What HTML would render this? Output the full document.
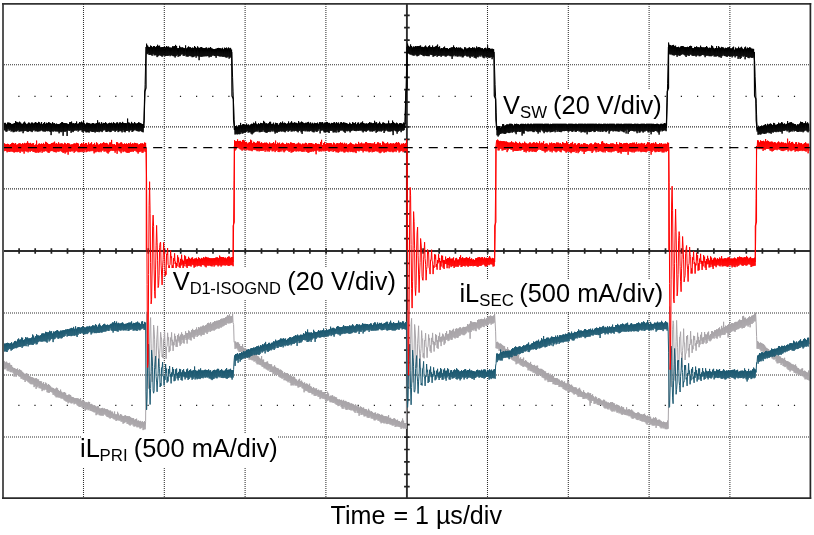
<!DOCTYPE html>
<html><head><meta charset="utf-8"><title>Waveforms</title>
<style>
html,body{margin:0;padding:0;background:#fff;}
body{width:814px;height:535px;overflow:hidden;position:relative;}
svg{position:absolute;left:0;top:0;}
</style></head>
<body>
<svg width="814" height="535" viewBox="0 0 814 535">
<rect width="814" height="535" fill="#fff"/>
<path d="M83.50 4V497M164.30 4V497M245.10 4V497M325.90 4V497M487.50 4V497M568.30 4V497M649.10 4V497M729.90 4V497M4 64.83H809.5M4 126.86H809.5M4 188.89H809.5M4 312.95H809.5M4 374.98H809.5M4 437.01H809.5" stroke="#303030" stroke-width="1.05" stroke-dasharray="1 1" fill="none"/>
<path d="M18.3 96.4h1.2M34.4 96.4h1.2M50.6 96.4h1.2M66.7 96.4h1.2M99.1 96.4h1.2M115.2 96.4h1.2M131.4 96.4h1.2M147.5 96.4h1.2M179.9 96.4h1.2M196.0 96.4h1.2M212.2 96.4h1.2M228.3 96.4h1.2M260.7 96.4h1.2M276.8 96.4h1.2M293.0 96.4h1.2M309.1 96.4h1.2M341.5 96.4h1.2M357.6 96.4h1.2M373.8 96.4h1.2M389.9 96.4h1.2M422.3 96.4h1.2M438.4 96.4h1.2M454.6 96.4h1.2M470.7 96.4h1.2M503.1 96.4h1.2M519.2 96.4h1.2M535.4 96.4h1.2M551.5 96.4h1.2M583.9 96.4h1.2M600.0 96.4h1.2M616.2 96.4h1.2M632.3 96.4h1.2M664.7 96.4h1.2M680.8 96.4h1.2M697.0 96.4h1.2M713.1 96.4h1.2M745.5 96.4h1.2M761.6 96.4h1.2M777.8 96.4h1.2M793.9 96.4h1.2M18.3 405.4h1.2M34.4 405.4h1.2M50.6 405.4h1.2M66.7 405.4h1.2M99.1 405.4h1.2M115.2 405.4h1.2M131.4 405.4h1.2M147.5 405.4h1.2M179.9 405.4h1.2M196.0 405.4h1.2M212.2 405.4h1.2M228.3 405.4h1.2M260.7 405.4h1.2M276.8 405.4h1.2M293.0 405.4h1.2M309.1 405.4h1.2M341.5 405.4h1.2M357.6 405.4h1.2M373.8 405.4h1.2M389.9 405.4h1.2M422.3 405.4h1.2M438.4 405.4h1.2M454.6 405.4h1.2M470.7 405.4h1.2M503.1 405.4h1.2M519.2 405.4h1.2M535.4 405.4h1.2M551.5 405.4h1.2M583.9 405.4h1.2M600.0 405.4h1.2M616.2 405.4h1.2M632.3 405.4h1.2M664.7 405.4h1.2M680.8 405.4h1.2M697.0 405.4h1.2M713.1 405.4h1.2M745.5 405.4h1.2M761.6 405.4h1.2M777.8 405.4h1.2M793.9 405.4h1.2" stroke="#1a1a1a" stroke-width="1.3" fill="none"/>
<path d="M3 251.0H810M406.9 3.5V498" stroke="#2e2e2e" stroke-width="1.9" fill="none"/>
<path d="M19.1 248.2v5.6M35.2 248.2v5.6M51.4 248.2v5.6M67.5 248.2v5.6M83.7 248.2v5.6M99.9 248.2v5.6M116.0 248.2v5.6M132.2 248.2v5.6M148.3 248.2v5.6M164.5 248.2v5.6M180.7 248.2v5.6M196.8 248.2v5.6M213.0 248.2v5.6M229.1 248.2v5.6M245.3 248.2v5.6M261.5 248.2v5.6M277.6 248.2v5.6M293.8 248.2v5.6M309.9 248.2v5.6M326.1 248.2v5.6M342.3 248.2v5.6M358.4 248.2v5.6M374.6 248.2v5.6M390.7 248.2v5.6M423.1 248.2v5.6M439.2 248.2v5.6M455.4 248.2v5.6M471.5 248.2v5.6M487.7 248.2v5.6M503.9 248.2v5.6M520.0 248.2v5.6M536.2 248.2v5.6M552.3 248.2v5.6M568.5 248.2v5.6M584.7 248.2v5.6M600.8 248.2v5.6M617.0 248.2v5.6M633.1 248.2v5.6M649.3 248.2v5.6M665.5 248.2v5.6M681.6 248.2v5.6M697.8 248.2v5.6M713.9 248.2v5.6M730.1 248.2v5.6M746.3 248.2v5.6M762.4 248.2v5.6M778.6 248.2v5.6M794.7 248.2v5.6M404.1 15.3h5.6M404.1 27.7h5.6M404.1 40.1h5.6M404.1 52.5h5.6M404.1 64.9h5.6M404.1 77.3h5.6M404.1 89.7h5.6M404.1 102.1h5.6M404.1 114.5h5.6M404.1 126.9h5.6M404.1 139.3h5.6M404.1 151.8h5.6M404.1 164.2h5.6M404.1 176.6h5.6M404.1 189.0h5.6M404.1 201.4h5.6M404.1 213.8h5.6M404.1 226.2h5.6M404.1 238.6h5.6M404.1 263.4h5.6M404.1 275.8h5.6M404.1 288.2h5.6M404.1 300.6h5.6M404.1 313.0h5.6M404.1 325.4h5.6M404.1 337.8h5.6M404.1 350.2h5.6M404.1 362.7h5.6M404.1 375.1h5.6M404.1 387.5h5.6M404.1 399.9h5.6M404.1 412.3h5.6M404.1 424.7h5.6M404.1 437.1h5.6M404.1 449.5h5.6M404.1 461.9h5.6M404.1 474.3h5.6M404.1 486.7h5.6" stroke="#222" stroke-width="1.7" fill="none"/>
<g fill="none" stroke-linejoin="round" stroke-width="1">
<polyline stroke="#a9a5a9" points="3.6,360.3 4.1,369.1 4.6,361.3 5.1,369.3 5.6,362.4 6.1,368.2 6.6,361.7 7.1,370.5 7.6,362.8 8.1,371.2 8.6,363.2 9.1,370.4 9.6,362.8 10.1,371.9 10.6,364.8 11.1,372.3 11.6,365.1 12.1,371.6 12.6,366.9 13.1,373.1 13.6,367.9 14.1,376.7 14.6,368 15.1,375.6 15.6,368.8 16.1,376.9 16.6,369 17.1,375.1 17.6,368.5 18.1,375.1 18.6,370.1 19.1,376.4 19.6,369.2 20.1,377 20.6,370.1 21.1,378.7 21.6,370.7 22.1,378.6 22.6,371.9 23.1,379.6 23.6,372.8 24.1,379.9 24.6,373.8 25.1,382 25.6,373.8 26.1,380.2 26.6,373.2 27.1,381 27.6,373.8 28.1,382.1 28.6,374.8 29.1,382.7 29.6,376.2 30.1,383.7 30.6,376.7 31.1,384.3 31.6,377.2 32.1,384.1 32.6,377.4 33.1,384.5 33.6,377.9 34.1,387.1 34.6,378.6 35.1,386.1 35.6,378.4 36.1,388.9 36.6,378.3 37.1,387.4 37.6,379.4 38.1,386.4 38.6,379.5 39.1,388.2 39.6,381.2 40.1,388.2 40.6,381.2 41.1,388.7 41.6,381.5 42.1,391.1 42.6,383.4 43.1,389.7 43.6,382 44.1,390.3 44.6,384.2 45.1,389.3 45.6,382.6 46.1,389.9 46.6,383.5 47.1,392.2 47.6,384.9 48.1,392.6 48.6,384 49.1,393 49.6,385 50.1,391.8 50.6,386.3 51.1,392 51.6,387.5 52.1,392.6 52.6,387.8 53.1,394.8 53.6,388.1 54.1,394.7 54.6,388.9 55.1,396.1 55.6,388.6 56.1,397.3 56.6,387.7 57.1,397.2 57.6,388.4 58.1,397.4 58.6,390.1 59.1,397.6 59.6,391 60.1,397.7 60.6,389.6 61.1,398.6 61.6,391.7 62.1,398.4 62.6,392.6 63.1,398.9 63.6,392.4 64.1,400.2 64.6,392 65.1,400.9 65.6,392.9 66.1,401.6 66.6,394.9 67.1,401.6 67.6,395.2 68.1,403.3 68.6,394.6 69.1,402.2 69.6,394.6 70.1,402.7 70.6,395.1 71.1,403.4 71.6,396.7 72.1,403.3 72.6,397 73.1,402.6 73.6,397.4 74.1,404.3 74.6,398.1 75.1,403.5 75.6,398.2 76.1,403.8 76.6,398.2 77.1,405.2 77.6,398.3 78.1,406 78.6,398.6 79.1,406.8 79.6,399.2 80.1,407 80.6,398 81.1,406.3 81.6,400.8 82.1,407.7 82.6,399.9 83.1,408.4 83.6,400.4 84.1,407.9 84.6,401.4 85.1,410.9 85.6,402.3 86.1,409.7 86.6,402.2 87.1,409.1 87.6,402.5 88.1,410.2 88.6,401.8 89.1,409.4 89.6,402.1 90.1,410.6 90.6,404.2 91.1,411 91.6,403.9 92.1,411.3 92.6,404.7 93.1,411.8 93.6,405.4 94.1,412.4 94.6,405.2 95.1,412.3 95.6,405.9 96.1,415.2 96.6,406.7 97.1,414.5 97.6,406.2 98.1,413.6 98.6,406.3 99.1,415.1 99.6,408.3 100.1,415.4 100.6,408.5 101.1,415.6 101.6,408.2 102.1,415.5 102.6,407.9 103.1,415.8 103.6,408.6 104.1,414.3 104.6,408.4 105.1,414.7 105.6,409.1 106.1,415.8 106.6,409.2 107.1,417 107.6,409.3 108.1,417.1 108.6,410.3 109.1,417.7 109.6,410.7 110.1,418.7 110.6,410.6 111.1,418 111.6,411.7 112.1,417.9 112.6,411.7 113.1,418.7 113.6,413.7 114.1,419.4 114.6,411.5 115.1,419.5 115.6,414.3 116.1,421 116.6,414.4 117.1,420.3 117.6,411.8 118.1,420.2 118.6,413.6 119.1,420.7 119.6,415.5 120.1,420.4 120.6,414.1 121.1,421.7 121.6,414.7 122.1,421.6 122.6,415.9 123.1,423.7 123.6,416 124.1,423.1 124.6,415.6 125.1,422.4 125.6,415.3 126.1,422 126.6,416.1 127.1,423.8 127.6,416.1 128.1,423.8 128.6,416.3 129.1,424.8 129.6,416.3 130.1,425.6 130.6,417.2 131.1,424.7 131.6,417.9 132.1,424.1 132.6,418.2 133.1,425.5 133.6,418.2 134.1,426.7 134.6,419.7 135.1,426 135.6,419.2 136.1,426.5 136.6,418.7 137.1,427.4 137.6,420.7 138.1,426.9 138.6,420.5 139.1,427.4 139.6,421.3 140.1,428.7 140.6,420.9 141.1,428.2 141.6,421.8 142.1,427.5 142.6,421.3 143.1,430.1 143.6,422.2 144.1,429.4 144.6,421.1 145.1,429.3 145.6,421.7 146.1,362.1 146.6,311.9 147.1,313.6 147.6,337.8 148.1,380 148.6,388.5 149.1,380 149.6,344.9 150.1,323.9 150.6,317.6 151.1,343.2 151.6,362.9 152.1,381.9 152.6,367.2 153.1,348.7 153.6,325 154.1,329.5 154.6,339.2 155.1,364.9 155.6,369 156.1,366.3 156.6,342.9 157.1,334.8 157.6,325.9 158.1,345.9 158.6,354.1 159.1,366.7 159.6,353.8 160.1,347.7 160.6,332.1 161.1,336.8 161.6,339 162.1,357 162.6,354.5 163.1,358.1 163.6,339.6 164.1,341 164.6,331.5 165.1,345.8 165.6,348.1 166.1,358.7 166.6,346.8 167.1,346.3 167.6,332.8 168.1,340.4 168.6,337.3 169.1,352.2 169.6,346.5 170.1,350.8 170.6,337.6 171.1,341.2 171.6,332.4 172.1,345.4 172.6,339.8 173.1,350.9 173.6,341.9 174.1,345.2 174.6,333.7 175.1,341.6 175.6,336 176.1,346.8 176.6,339.7 177.1,347 177.6,335 178.1,340.9 178.6,333.7 179.1,342.5 179.6,336.6 180.1,345.8 180.6,334.7 181.1,344.2 181.6,332.4 182.1,340 182.6,334.1 183.1,342.9 183.6,335.5 184.1,343.6 184.6,335 185.1,338.1 185.6,331.3 186.1,340 186.6,333 187.1,343.6 187.6,333 188.1,339.4 188.6,330.5 189.1,338.3 189.6,331.4 190.1,340 190.6,332.5 191.1,340.5 191.6,330 192.1,337 192.6,328.9 193.1,337.6 193.6,330.1 194.1,339 194.6,330 195.1,336.6 195.6,329.5 196.1,335.1 196.6,327.5 197.1,337 197.6,329.6 198.1,335.8 198.6,327 199.1,335.1 199.6,327.7 200.1,334.8 200.6,326.7 201.1,336.2 201.6,326.7 202.1,334.7 202.6,325.8 203.1,334.8 203.6,325.5 204.1,334.7 204.6,326.1 205.1,332.4 205.6,325.2 206.1,332.7 206.6,324.6 207.1,334 207.6,323.1 208.1,332.2 208.6,322.8 209.1,330.7 209.6,323.5 210.1,332 210.6,322.1 211.1,331.1 211.6,323.8 212.1,330.5 212.6,322.7 213.1,330.2 213.6,322.2 214.1,330.7 214.6,321 215.1,329.7 215.6,321.4 216.1,329.1 216.6,320.8 217.1,328.3 217.6,320.7 218.1,328.5 218.6,320.4 219.1,328.6 219.6,320 220.1,327.3 220.6,319.2 221.1,327.7 221.6,318.7 222.1,326.6 222.6,318.7 223.1,326.3 223.6,318.3 224.1,325.7 224.6,318.1 225.1,324.8 225.6,317.2 226.1,325 226.6,316.7 227.1,323.1 227.6,315.2 228.1,323.5 228.6,315.7 229.1,323.3 229.6,314.3 230.1,323.3 230.6,316.3 231.1,323 231.6,316.1 232.1,322.4 232.6,313.5 233.1,322.7 233.6,324.4 234.1,342.1 234.6,341.6 235.1,348.9 235.6,341.6 236.1,348.1 236.6,342.6 237.1,348.7 237.6,342.2 238.1,350.4 238.6,342.6 239.1,351.9 239.6,344.2 240.1,352 240.6,346 241.1,351.3 241.6,346.2 242.1,352.8 242.6,344.1 243.1,354.3 243.6,347.7 244.1,354.4 244.6,348.6 245.1,355 245.6,348 246.1,356.5 246.6,349 247.1,356.2 247.6,350.6 248.1,358 248.6,351.2 249.1,359.8 249.6,351.7 250.1,359.5 250.6,351.6 251.1,359.8 251.6,352.4 252.1,360.3 252.6,353.6 253.1,360.3 253.6,354.3 254.1,361.7 254.6,353.4 255.1,361 255.6,354.4 256.1,362.7 256.6,352.7 257.1,364.3 257.6,356.1 258.1,364.2 258.6,356.5 259.1,364.5 259.6,357.8 260.1,365 260.6,358.8 261.1,365.4 261.6,356 262.1,366.7 262.6,359.7 263.1,366.9 263.6,359.6 264.1,368.4 264.6,362.3 265.1,368.2 265.6,362.3 266.1,369.2 266.6,361.8 267.1,369.7 267.6,361.5 268.1,370.6 268.6,363.6 269.1,369.5 269.6,364 270.1,372 270.6,364.3 271.1,371.9 271.6,364.4 272.1,372.2 272.6,366.6 273.1,374.1 273.6,366.6 274.1,373.6 274.6,365.3 275.1,374.6 275.6,366.9 276.1,375.2 276.6,367.9 277.1,374.7 277.6,368.2 278.1,375 278.6,368.6 279.1,377 279.6,369.8 280.1,377.5 280.6,369.6 281.1,377.9 281.6,370.3 282.1,378.8 282.6,371.2 283.1,377.9 283.6,373.3 284.1,380.3 284.6,372.1 285.1,380 285.6,373.1 286.1,380.7 286.6,373 287.1,381.2 287.6,373 288.1,382.3 288.6,374.9 289.1,381.2 289.6,375.3 290.1,382.9 290.6,376 291.1,385.5 291.6,375.9 292.1,385.1 292.6,376.9 293.1,385.5 293.6,376.6 294.1,384.4 294.6,376.9 295.1,385.6 295.6,378.8 296.1,385.4 296.6,379.5 297.1,385.8 297.6,380.8 298.1,387.6 298.6,379.7 299.1,387.2 299.6,378.8 300.1,387 300.6,381.2 301.1,386.4 301.6,380.6 302.1,388.2 302.6,381.9 303.1,388.7 303.6,383.2 304.1,392.3 304.6,382.4 305.1,390.5 305.6,383.9 306.1,391.1 306.6,383.5 307.1,390.9 307.6,383.9 308.1,392.1 308.6,384.9 309.1,392.9 309.6,383.7 310.1,392.6 310.6,386.2 311.1,393 311.6,386.8 312.1,394.4 312.6,388.2 313.1,393.9 313.6,387.1 314.1,395.6 314.6,388.4 315.1,396 315.6,388.6 316.1,395.7 316.6,388.4 317.1,395.3 317.6,390 318.1,396.8 318.6,389.7 319.1,396.7 319.6,390.6 320.1,399.1 320.6,390.4 321.1,397.7 321.6,390.4 322.1,398.5 322.6,392.1 323.1,398.7 323.6,392.1 324.1,398.8 324.6,392 325.1,399.5 325.6,393.7 326.1,401.7 326.6,394.6 327.1,401.1 327.6,391.7 328.1,400.1 328.6,393.5 329.1,400.6 329.6,396.4 330.1,402.2 330.6,395.7 331.1,402.2 331.6,395.7 332.1,402.3 332.6,395.2 333.1,403 333.6,396.6 334.1,402.6 334.6,396.6 335.1,403.7 335.6,397.1 336.1,404.5 336.6,397.5 337.1,405 337.6,399.1 338.1,406.1 338.6,399.5 339.1,405.9 339.6,399.4 340.1,405 340.6,400.1 341.1,406.8 341.6,399.8 342.1,408.5 342.6,400.8 343.1,408.9 343.6,399.9 344.1,407.1 344.6,401.2 345.1,408.7 345.6,400.9 346.1,409.9 346.6,401.6 347.1,409.9 347.6,402.2 348.1,408.8 348.6,402 349.1,409.9 349.6,402.8 350.1,409.9 350.6,403.6 351.1,410.5 351.6,403.4 352.1,409.9 352.6,403.9 353.1,410.7 353.6,404.3 354.1,411.6 354.6,405.3 355.1,412.9 355.6,404.4 356.1,410.7 356.6,405.8 357.1,412.8 357.6,406.4 358.1,413.1 358.6,406.1 359.1,415.8 359.6,407.5 360.1,413.2 360.6,406.4 361.1,415 361.6,407 362.1,414.4 362.6,407.9 363.1,414.8 363.6,407.5 364.1,416.4 364.6,408.9 365.1,416.3 365.6,409.1 366.1,415.9 366.6,409.3 367.1,417.4 367.6,410.6 368.1,417.9 368.6,408.8 369.1,417.9 369.6,410.5 370.1,416.6 370.6,411.5 371.1,418.4 371.6,411.2 372.1,418.6 372.6,412 373.1,418.7 373.6,413 374.1,420.3 374.6,412.8 375.1,420.4 375.6,412.5 376.1,419.5 376.6,414.2 377.1,419.5 377.6,413.5 378.1,420.8 378.6,413.8 379.1,420.6 379.6,414.1 380.1,421.8 380.6,415 381.1,423.3 381.6,414.6 382.1,422.5 382.6,414.9 383.1,422.9 383.6,415.9 384.1,423.5 384.6,416.2 385.1,422.7 385.6,416.2 386.1,423.7 386.6,416.4 387.1,424.1 387.6,416.7 388.1,423.7 388.6,415.1 389.1,423.8 389.6,417.9 390.1,424.6 390.6,417.8 391.1,424.5 391.6,418.9 392.1,425.4 392.6,419 393.1,425.7 393.6,418.5 394.1,424.9 394.6,418.3 395.1,426.9 395.6,419.4 396.1,426.6 396.6,420.2 397.1,426.4 397.6,419.7 398.1,426.6 398.6,421 399.1,426.9 399.6,421.2 400.1,427.2 400.6,422.2 401.1,428.9 401.6,420.8 402.1,427.6 402.6,418.5 403.1,428.5 403.6,420.7 404.1,428.4 404.6,423 405.1,428.4 405.6,423.4 406.1,429 406.6,423.3 407.1,364 407.6,310.2 408.1,312.1 408.6,337.8 409.1,377.2 409.6,388.7 410.1,380.3 410.6,343.6 411.1,324.4 411.6,318.4 412.1,344 412.6,364.3 413.1,382.4 413.6,366.7 414.1,349.9 414.6,324.5 415.1,329.8 415.6,339 416.1,366.5 416.6,367.5 417.1,366.6 417.6,343.3 418.1,335.9 418.6,325.8 419.1,344.8 419.6,353 420.1,367.9 420.6,353.6 421.1,348.7 421.6,330.6 422.1,337.7 422.6,338.4 423.1,357.3 423.6,353.2 424.1,358.3 424.6,340.3 425.1,341 425.6,333.2 426.1,347.1 426.6,347.2 427.1,357.7 427.6,347.9 428.1,346.4 428.6,334.5 429.1,340.1 429.6,338.4 430.1,351.2 430.6,345.5 431.1,352.8 431.6,337.9 432.1,342 432.6,332.9 433.1,344.4 433.6,341.1 434.1,351.5 434.6,342 435.1,345.2 435.6,334.2 436.1,341.8 436.6,335.2 437.1,347.9 437.6,340.3 438.1,348.8 438.6,336.2 439.1,341.2 439.6,332.7 440.1,342.2 440.6,337 441.1,346.1 441.6,336.6 442.1,341.6 442.6,333.7 443.1,340.2 443.6,334.6 444.1,344.8 444.6,336.7 445.1,343.3 445.6,333 446.1,339.9 446.6,331.2 447.1,339.6 447.6,334.3 448.1,341.1 448.6,333.8 449.1,340.5 449.6,330.1 450.1,338.6 450.6,330.6 451.1,339.9 451.6,330.9 452.1,339.7 452.6,329.8 453.1,337.1 453.6,328.8 454.1,337.9 454.6,331.5 455.1,338.5 455.6,328.9 456.1,337.2 456.6,328.3 457.1,338 457.6,328.8 458.1,337.6 458.6,328.5 459.1,336.1 459.6,327.5 460.1,335.7 460.6,327.3 461.1,334.4 461.6,328.5 462.1,334.4 462.6,327.5 463.1,335.1 463.6,326.9 464.1,335.2 464.6,327 465.1,334.3 465.6,326.9 466.1,333.3 466.6,326.6 467.1,331.2 467.6,324 468.1,332.3 468.6,324.7 469.1,332.2 469.6,323.8 470.1,338.7 470.6,321 471.1,331.9 471.6,321.6 472.1,330 472.6,322.4 473.1,330.6 473.6,322.2 474.1,329.2 474.6,322 475.1,330.6 475.6,322.3 476.1,331.2 476.6,322.6 477.1,327.8 477.6,320 478.1,328.7 478.6,319.5 479.1,329.7 479.6,319.6 480.1,328.2 480.6,319.1 481.1,327.6 481.6,318.9 482.1,326.3 482.6,319.3 483.1,326.8 483.6,319.2 484.1,327.1 484.6,317.7 485.1,324.6 485.6,319.5 486.1,326 486.6,318.2 487.1,325.7 487.6,316.7 488.1,325 488.6,316.5 489.1,323.6 489.6,316 490.1,323.2 490.6,315.4 491.1,324.7 491.6,316.1 492.1,323.7 492.6,316.3 493.1,323.5 493.6,315.5 494.1,322.7 494.6,313.8 495.1,322 495.6,331.2 496.1,348.2 496.6,342 497.1,348.6 497.6,341.8 498.1,348.7 498.6,342.8 499.1,350.8 499.6,343.7 500.1,350.4 500.6,343.5 501.1,351.3 501.6,344.3 502.1,353.5 502.6,345.2 503.1,352.5 503.6,345.9 504.1,354 504.6,346.3 505.1,354.4 505.6,348.8 506.1,354.5 506.6,349 507.1,356.7 507.6,347.2 508.1,356.9 508.6,349.4 509.1,357.3 509.6,350.6 510.1,357 510.6,351.7 511.1,358.9 511.6,350.7 512.1,359.9 512.6,350.7 513.1,360.5 513.6,353.4 514.1,360.8 514.6,353.3 515.1,361.6 515.6,352.2 516.1,364.3 516.6,354.7 517.1,363.5 517.6,354.3 518.1,363.4 518.6,354.8 519.1,363.3 519.6,358.6 520.1,364.8 520.6,357.4 521.1,365.5 521.6,359 522.1,365.9 522.6,358.9 523.1,367 523.6,357.6 524.1,366.3 524.6,361 525.1,366.4 525.6,360.1 526.1,366.9 526.6,360.9 527.1,367.8 527.6,362.1 528.1,370.4 528.6,362.7 529.1,369.5 529.6,363.3 530.1,370.9 530.6,361.9 531.1,371.3 531.6,364.1 532.1,371.3 532.6,365 533.1,372.6 533.6,365.3 534.1,372.6 534.6,364.9 535.1,373.4 535.6,366.1 536.1,374.3 536.6,365.8 537.1,376 537.6,365.6 538.1,375.2 538.6,368 539.1,375.3 539.6,368.9 540.1,374.6 540.6,368.8 541.1,375.6 541.6,368.9 542.1,377.3 542.6,369.6 543.1,377.8 543.6,370.2 544.1,378.3 544.6,371.2 545.1,380.4 545.6,371.5 546.1,379.2 546.6,373.2 547.1,380.3 547.6,373.2 548.1,382.1 548.6,372.9 549.1,381.6 549.6,374.5 550.1,382 550.6,373.8 551.1,382 551.6,375.2 552.1,382 552.6,375.6 553.1,384.2 553.6,376 554.1,383.9 554.6,378.1 555.1,384.9 555.6,378.1 556.1,384.7 556.6,378.2 557.1,385 557.6,378.4 558.1,384.9 558.6,379.4 559.1,387 559.6,379.8 560.1,386.3 560.6,381.2 561.1,387.1 561.6,380.4 562.1,387.2 562.6,380.8 563.1,388.9 563.6,382 564.1,389.4 564.6,381.4 565.1,390 565.6,383.3 566.1,390.7 566.6,383.5 567.1,389.9 567.6,379.7 568.1,392.2 568.6,381.1 569.1,392.4 569.6,384 570.1,391.7 570.6,385 571.1,392 571.6,384.7 572.1,392.5 572.6,385.9 573.1,393.4 573.6,387.2 574.1,394.6 574.6,387.3 575.1,394 575.6,387.3 576.1,394.1 576.6,387.7 577.1,395.2 577.6,389.3 578.1,396.9 578.6,388.6 579.1,396.5 579.6,387.8 580.1,396.7 580.6,389.7 581.1,397 581.6,391.3 582.1,397.1 582.6,392.1 583.1,399 583.6,390.3 584.1,398.9 584.6,392 585.1,398.4 585.6,393.1 586.1,398.7 586.6,393.5 587.1,398.4 587.6,392.6 588.1,399.9 588.6,392.6 589.1,400.6 589.6,393.4 590.1,405.8 590.6,393.2 591.1,403 591.6,395 592.1,400.9 592.6,394.3 593.1,400.9 593.6,396.3 594.1,403.8 594.6,397.5 595.1,403.7 595.6,396.5 596.1,403.2 596.6,397.3 597.1,404.4 597.6,398.9 598.1,405 598.6,398.1 599.1,405.2 599.6,398.5 600.1,405.1 600.6,399.4 601.1,404.9 601.6,400.5 602.1,404.9 602.6,400.7 603.1,406.2 603.6,399.7 604.1,407.7 604.6,399.9 605.1,408.6 605.6,401.5 606.1,407.9 606.6,401.7 607.1,408.9 607.6,402.5 608.1,409.5 608.6,402.5 609.1,408.2 609.6,403 610.1,409.6 610.6,402.2 611.1,410.7 611.6,402.3 612.1,411.7 612.6,402 613.1,410.8 613.6,403.2 614.1,411.6 614.6,403.5 615.1,410.3 615.6,405.1 616.1,411.5 616.6,404.8 617.1,412.8 617.6,406.1 618.1,412.2 618.6,405.3 619.1,413.4 619.6,405.9 620.1,412.8 620.6,407.4 621.1,414.1 621.6,406 622.1,415 622.6,407.3 623.1,414.1 623.6,407.3 624.1,414.5 624.6,409.4 625.1,415 625.6,409.7 626.1,415.1 626.6,407.3 627.1,415.3 627.6,409.7 628.1,415.5 628.6,409.3 629.1,416.3 629.6,409.3 630.1,415.9 630.6,410.2 631.1,417.4 631.6,409.6 632.1,418.6 632.6,410.6 633.1,418.7 633.6,411.7 634.1,418.2 634.6,412.5 635.1,418 635.6,413 636.1,419.2 636.6,413.1 637.1,420 637.6,412.5 638.1,420.1 638.6,412.4 639.1,419.4 639.6,413.3 640.1,420.7 640.6,414.2 641.1,421 641.6,414.2 642.1,421.6 642.6,414.6 643.1,421.4 643.6,414.1 644.1,421.8 644.6,413.7 645.1,422.2 645.6,415 646.1,423.5 646.6,416 647.1,424.7 647.6,415.6 648.1,422.9 648.6,416.3 649.1,423.4 649.6,415.7 650.1,424.6 650.6,416.8 651.1,424.3 651.6,418.8 652.1,425.4 652.6,418.7 653.1,425.6 653.6,417.5 654.1,425.6 654.6,418.1 655.1,425.3 655.6,417.2 656.1,427.9 656.6,418.5 657.1,425.4 657.6,420 658.1,426 658.6,419.7 659.1,425.9 659.6,419.7 660.1,427.2 660.6,420.6 661.1,428.4 661.6,421.3 662.1,427.4 662.6,422 663.1,428.5 663.6,421.6 664.1,427.8 664.6,422 665.1,429.1 665.6,422.4 666.1,429.2 666.6,422.3 667.1,429.2 667.6,420.6 668.1,428.7 668.6,400.1 669.1,336.5 669.6,306.6 670.1,320.7 670.6,352.4 671.1,386.1 671.6,387 672.1,367.3 672.6,329.3 673.1,320.8 673.6,323.5 674.1,354.9 674.6,371.4 675.1,380.6 675.6,358.8 676.1,341.5 676.6,320.4 677.1,334.3 677.6,347.8 678.1,370 678.6,366.5 679.1,359.4 679.6,336.9 680.1,336.5 680.6,331.7 681.1,351.7 681.6,355.5 682.1,367.3 682.6,350.4 683.1,344.9 683.6,328.7 684.1,342.1 684.6,343 685.1,360 685.6,354.1 686.1,352.9 686.6,336.1 687.1,339.2 687.6,335 688.1,350.4 688.6,348.6 689.1,357.3 689.6,344 690.1,344.8 690.6,331.2 691.1,343.4 691.6,339.5 692.1,352.9 692.6,345.6 693.1,349.2 693.6,335.8 694.1,340 694.6,336.2 695.1,345.6 695.6,343.4 696.1,350.7 696.6,340.6 697.1,344 697.6,332.7 698.1,342.5 698.6,336.9 699.1,347.2 699.6,340.4 700.1,344.5 700.6,334.8 701.1,340.6 701.6,332.2 702.1,344 702.6,337.7 703.1,344.1 703.6,337.2 704.1,342.6 704.6,332 705.1,340.1 705.6,334.4 706.1,343.7 706.6,334.6 707.1,342.9 707.6,332.6 708.1,339.2 708.6,331.6 709.1,340.7 709.6,335.5 710.1,341.3 710.6,334 711.1,340.3 711.6,331.2 712.1,338.7 712.6,331.2 713.1,338 713.6,332.3 714.1,338.7 714.6,330.3 715.1,336.2 715.6,330.2 716.1,338.1 716.6,329.3 717.1,338.7 717.6,329.4 718.1,336.4 718.6,328.3 719.1,335.8 719.6,327.4 720.1,337.7 720.6,329.5 721.1,335.3 721.6,325.9 722.1,334.8 722.6,327.9 723.1,334.8 723.6,321.8 724.1,334.9 724.6,327.1 725.1,334.5 725.6,325.7 726.1,332.5 726.6,326 727.1,333.1 727.6,325 728.1,337.5 728.6,324.2 729.1,333.9 729.6,322.9 730.1,332.3 730.6,324.5 731.1,331.9 731.6,323.2 732.1,331.3 732.6,323.1 733.1,330.5 733.6,323.4 734.1,331.3 734.6,322.4 735.1,331.8 735.6,321.9 736.1,330 736.6,321.9 737.1,329.3 737.6,321.7 738.1,329.2 738.6,320.5 739.1,328.5 739.6,319.5 740.1,327.8 740.6,320.1 741.1,327.5 741.6,320 742.1,328.5 742.6,316.4 743.1,328 743.6,315.9 744.1,328 744.6,317.8 745.1,326.6 745.6,317.7 746.1,325.5 746.6,319.1 747.1,325.4 747.6,318.3 748.1,326.6 748.6,317.3 749.1,325 749.6,316.3 750.1,327.3 750.6,317 751.1,323.8 751.6,315.8 752.1,323.9 752.6,315.5 753.1,322.9 753.6,314.9 754.1,321.3 754.6,314 755.1,321.5 755.6,312.7 756.1,321.7 756.6,336.5 757.1,348.7 757.6,341.1 758.1,348.9 758.6,341.9 759.1,348.7 759.6,343.1 760.1,349.7 760.6,342.5 761.1,351.4 761.6,343.1 762.1,350.9 762.6,343.7 763.1,352.3 763.6,344.1 764.1,354.1 764.6,345.3 765.1,353.5 765.6,346.7 766.1,355.7 766.6,347.9 767.1,355.6 767.6,348.6 768.1,356 768.6,349.1 769.1,355.7 769.6,350.3 770.1,357 770.6,350.7 771.1,356.9 771.6,351.6 772.1,358.4 772.6,352 773.1,359.2 773.6,353 774.1,359.7 774.6,353.8 775.1,358.8 775.6,354.3 776.1,361.4 776.6,353.8 777.1,363.3 777.6,355.9 778.1,363.3 778.6,355.4 779.1,362.9 779.6,356.4 780.1,363.1 780.6,356.7 781.1,365 781.6,358.1 782.1,363.4 782.6,358.2 783.1,366 783.6,358.8 784.1,366.4 784.6,357.8 785.1,367.1 785.6,360.2 786.1,366.4 786.6,361 787.1,368.5 787.6,361.2 788.1,369.7 788.6,361.7 789.1,370.1 789.6,362.3 790.1,371.5 790.6,362.9 791.1,370.3 791.6,363.9 792.1,370.3 792.6,364.4 793.1,371 793.6,364.6 794.1,372.6 794.6,365.2 795.1,372.9 795.6,364.5 796.1,373.5 796.6,366.4 797.1,373.4 797.6,367.8 798.1,374.8 798.6,368.2 799.1,374.8 799.6,369.5 800.1,375.4 800.6,369.6 801.1,375.6 801.6,368.7 802.1,376.1 802.6,368.4 803.1,376.4 803.6,371 804.1,377.5 804.6,370.7 805.1,379.4 805.6,371.3 806.1,378.9 806.6,372 807.1,379.6 807.6,372.6 808.1,380 808.6,370.6 809.1,380.8"/>
<polyline stroke="#1d5a72" points="3.6,344.7 4.1,351.6 4.6,343.6 5.1,351.2 5.6,343.5 6.1,351.7 6.6,343 7.1,352 7.6,342.8 8.1,350.2 8.6,343 9.1,348.8 9.6,343.6 10.1,349.1 10.6,343.2 11.1,350.7 11.6,342.2 12.1,349.9 12.6,343.6 13.1,349 13.6,342.6 14.1,348.5 14.6,341.2 15.1,348 15.6,340.9 16.1,348.3 16.6,341.6 17.1,347.7 17.6,339.5 18.1,347.2 18.6,338.5 19.1,346.8 19.6,339.7 20.1,347 20.6,339.4 21.1,346.4 21.6,337.5 22.1,347.9 22.6,337.8 23.1,346.4 23.6,340 24.1,346.1 24.6,339.4 25.1,345.6 25.6,337.2 26.1,346.2 26.6,337.7 27.1,344.1 27.6,337.5 28.1,346.4 28.6,338.4 29.1,344.9 29.6,338.3 30.1,344.6 30.6,338.2 31.1,344.5 31.6,337.6 32.1,344.8 32.6,334.5 33.1,345 33.6,335.6 34.1,343.8 34.6,337.7 35.1,342.9 35.6,336.2 36.1,344.4 36.6,334.3 37.1,344.2 37.6,335.3 38.1,342.2 38.6,335.5 39.1,341.3 39.6,335.8 40.1,341.4 40.6,335.2 41.1,341.6 41.6,333.7 42.1,341.7 42.6,333.4 43.1,341.3 43.6,333.4 44.1,341.3 44.6,333.6 45.1,341.2 45.6,331.8 46.1,341.8 46.6,332.1 47.1,342.7 47.6,332.4 48.1,339.4 48.6,332.3 49.1,341.5 49.6,330.8 50.1,340.4 50.6,331.5 51.1,339.1 51.6,331.2 52.1,338.8 52.6,333.4 53.1,342.1 53.6,331.5 54.1,339.3 54.6,331.8 55.1,338.7 55.6,331 56.1,337.3 56.6,330.5 57.1,337.6 57.6,330 58.1,338.9 58.6,331.3 59.1,338.3 59.6,331.6 60.1,337.7 60.6,330.6 61.1,338.5 61.6,330.7 62.1,338.1 62.6,330.4 63.1,336.9 63.6,330.2 64.1,336.7 64.6,330.1 65.1,335.9 65.6,329.5 66.1,334.2 66.6,329.5 67.1,336.6 67.6,329 68.1,336 68.6,329.3 69.1,336 69.6,328.8 70.1,335.7 70.6,328.4 71.1,336.2 71.6,327.9 72.1,335.9 72.6,328.3 73.1,335.2 73.6,326.9 74.1,336 74.6,328.8 75.1,335.2 75.6,326.3 76.1,335.5 76.6,328.7 77.1,337 77.6,327.4 78.1,334.8 78.6,327 79.1,333.2 79.6,327.3 80.1,334 80.6,327.7 81.1,333.3 81.6,327.2 82.1,332.9 82.6,326.3 83.1,333.9 83.6,327.2 84.1,334.4 84.6,327.3 85.1,334.2 85.6,327.5 86.1,333.6 86.6,326.7 87.1,334.1 87.6,326.5 88.1,333.2 88.6,326.6 89.1,331.8 89.6,325.9 90.1,332.3 90.6,326.7 91.1,334.5 91.6,326.3 92.1,333.3 92.6,325.3 93.1,332 93.6,325.5 94.1,333.2 94.6,325.7 95.1,333 95.6,324.2 96.1,333.2 96.6,325.1 97.1,332.8 97.6,326.7 98.1,332.7 98.6,324.7 99.1,333 99.6,323.5 100.1,332.2 100.6,325.4 101.1,332.6 101.6,326.2 102.1,332.5 102.6,325.2 103.1,331.8 103.6,324.2 104.1,331.6 104.6,323.8 105.1,331.7 105.6,324.7 106.1,331.3 106.6,325 107.1,330.3 107.6,324.6 108.1,331 108.6,325.1 109.1,330.8 109.6,324.8 110.1,328.4 110.6,323.9 111.1,330.3 111.6,323.6 112.1,330.9 112.6,322.4 113.1,332.6 113.6,322.6 114.1,330.8 114.6,321 115.1,330.9 115.6,322.9 116.1,330.9 116.6,321.6 117.1,331.4 117.6,323.4 118.1,331.7 118.6,322.8 119.1,330 119.6,323.5 120.1,330.6 120.6,323.4 121.1,330.5 121.6,322.9 122.1,329.7 122.6,322.4 123.1,330.5 123.6,323.5 124.1,330.3 124.6,324.1 125.1,330.2 125.6,323.8 126.1,330.5 126.6,323.6 127.1,329.2 127.6,323 128.1,331 128.6,322.7 129.1,330.6 129.6,322.6 130.1,329.7 130.6,322.6 131.1,329.7 131.6,321.4 132.1,329.1 132.6,323.7 133.1,330.6 133.6,322.9 134.1,330.5 134.6,323 135.1,330.2 135.6,322.7 136.1,330.5 136.6,322.4 137.1,331 137.6,321.6 138.1,329.3 138.6,322.7 139.1,330.2 139.6,322.9 140.1,330.3 140.6,324 141.1,329.3 141.6,321.6 142.1,328.6 142.6,321.2 143.1,328.4 143.6,324.1 144.1,329.9 144.6,321.9 145.1,329.8 145.6,322.6 146.1,391.2 146.6,409.8 147.1,398 147.6,365.8 148.1,346.9 148.6,344 149.1,370.8 149.6,390.1 150.1,404.5 150.6,388.5 151.1,371.7 151.6,350.1 152.1,356.5 152.6,366.6 153.1,390.7 153.6,393.2 154.1,391 154.6,367.7 155.1,361.7 155.6,356.1 156.1,376.3 156.6,382.1 157.1,391.8 157.6,380.9 158.1,373.6 158.6,358.7 159.1,366.4 159.6,368.7 160.1,387 160.6,383.2 161.1,385.8 161.6,367.7 162.1,368 162.6,362.1 163.1,376.5 163.6,376.3 164.1,385.4 164.6,375.8 165.1,379.8 165.6,364 166.1,373 166.6,368.6 167.1,382.6 167.6,376.8 168.1,381.4 168.6,369 169.1,373.5 169.6,366 170.1,376.5 170.6,374 171.1,383.4 171.6,372.5 172.1,376.6 172.6,367.2 173.1,374.5 173.6,369 174.1,381.2 174.6,374.4 175.1,380.7 175.6,369.4 176.1,375.3 176.6,368.5 177.1,378.4 177.6,373.3 178.1,380.4 178.6,371.9 179.1,378 179.6,368.9 180.1,376.3 180.6,369.3 181.1,380 181.6,372.4 182.1,380.6 182.6,370.3 183.1,376.3 183.6,369.1 184.1,377.2 184.6,371.6 185.1,379.4 185.6,372.2 186.1,377.4 186.6,369.5 187.1,377.8 187.6,368.6 188.1,379.9 188.6,371.2 189.1,379 189.6,370 190.1,377.2 190.6,369.3 191.1,377.6 191.6,370.8 192.1,379.8 192.6,370.6 193.1,378.8 193.6,370.1 194.1,377.3 194.6,366.5 195.1,379.5 195.6,370.1 196.1,378.2 196.6,370.8 197.1,379.3 197.6,370.8 198.1,378.6 198.6,369.6 199.1,378.6 199.6,369.8 200.1,379.1 200.6,368.4 201.1,378.1 201.6,370.4 202.1,377.8 202.6,370.4 203.1,378.3 203.6,370.4 204.1,376.8 204.6,369.9 205.1,377.9 205.6,369.7 206.1,377 206.6,370 207.1,377.7 207.6,370.2 208.1,377.2 208.6,369.4 209.1,378.4 209.6,370.6 210.1,378.5 210.6,370.2 211.1,379.3 211.6,371.8 212.1,380.1 212.6,370.8 213.1,379.1 213.6,370 214.1,378.7 214.6,369.8 215.1,377.3 215.6,370.3 216.1,378.2 216.6,369.7 217.1,378.3 217.6,368.8 218.1,376.6 218.6,368.9 219.1,377.4 219.6,370.7 220.1,376.6 220.6,370 221.1,377.8 221.6,369.2 222.1,377.8 222.6,370.4 223.1,378.1 223.6,370.8 224.1,377.7 224.6,370.6 225.1,377.8 225.6,369.4 226.1,378.4 226.6,368 227.1,378.9 227.6,369.9 228.1,378 228.6,369.7 229.1,377.5 229.6,369.5 230.1,376.8 230.6,368.8 231.1,377.9 231.6,370.1 232.1,379.6 232.6,370.1 233.1,377.5 233.6,369.7 234.1,360.8 234.6,355.4 235.1,365.9 235.6,354 236.1,360.7 236.6,353.9 237.1,360.2 237.6,353.1 238.1,362.8 238.6,354.4 239.1,358.9 239.6,353.2 240.1,361.6 240.6,353.1 241.1,360 241.6,352 242.1,359.2 242.6,352.7 243.1,358.7 243.6,351.2 244.1,358.2 244.6,351.6 245.1,358 245.6,351.3 246.1,357.3 246.6,350 247.1,358 247.6,349.6 248.1,357 248.6,349.1 249.1,357.6 249.6,349.6 250.1,356.6 250.6,348.5 251.1,356 251.6,348.1 252.1,355.6 252.6,348.1 253.1,354.3 253.6,347.5 254.1,355.2 254.6,347.7 255.1,354.4 255.6,347.1 256.1,355 256.6,346.4 257.1,354.2 257.6,346.2 258.1,354.6 258.6,345.7 259.1,354.9 259.6,346.8 260.1,353.8 260.6,345.1 261.1,351.5 261.6,345.6 262.1,352.7 262.6,344.2 263.1,351.6 263.6,344.6 264.1,350.9 264.6,343.4 265.1,353.4 265.6,341.9 266.1,350 266.6,344.5 267.1,351.4 267.6,344 268.1,352 268.6,342.9 269.1,351 269.6,342.8 270.1,349.9 270.6,343.9 271.1,350.4 271.6,342.8 272.1,349.4 272.6,342.6 273.1,348.7 273.6,341.3 274.1,350 274.6,341.6 275.1,348.5 275.6,339.7 276.1,346.4 276.6,340.8 277.1,348 277.6,340.7 278.1,347.9 278.6,340.2 279.1,346.4 279.6,339.7 280.1,346.8 280.6,338.5 281.1,347 281.6,338.7 282.1,346 282.6,338.8 283.1,347.4 283.6,338.2 284.1,345.2 284.6,338.9 285.1,346.2 285.6,338.5 286.1,344.9 286.6,340 287.1,345.6 287.6,338.9 288.1,345.6 288.6,338.3 289.1,345.1 289.6,337.3 290.1,344 290.6,337.1 291.1,345.4 291.6,337.7 292.1,344.2 292.6,337.1 293.1,343.6 293.6,336.4 294.1,344 294.6,335.9 295.1,342.9 295.6,335 296.1,342.5 296.6,335.6 297.1,345.9 297.6,334.6 298.1,341.2 298.6,335.6 299.1,343.1 299.6,335.5 300.1,342.5 300.6,334.7 301.1,342.5 301.6,334.8 302.1,341.4 302.6,334.8 303.1,340 303.6,333.1 304.1,339.9 304.6,333.9 305.1,340.4 305.6,331.3 306.1,340.2 306.6,332.2 307.1,342 307.6,329.5 308.1,341.8 308.6,332.5 309.1,341.4 309.6,332.6 310.1,340.2 310.6,332.6 311.1,341.9 311.6,332.4 312.1,339.6 312.6,333 313.1,338.3 313.6,329.8 314.1,338.3 314.6,331.4 315.1,341.9 315.6,332 316.1,338.9 316.6,332 317.1,337.7 317.6,331.6 318.1,337 318.6,330 319.1,337.6 319.6,330.9 320.1,337.7 320.6,330.5 321.1,337.2 321.6,330.6 322.1,337 322.6,330.1 323.1,336.9 323.6,328.5 324.1,337.3 324.6,330.5 325.1,336.3 325.6,330.6 326.1,336.5 326.6,329.1 327.1,336.4 327.6,330.1 328.1,336.5 328.6,329.6 329.1,335.6 329.6,329.2 330.1,334.7 330.6,326.7 331.1,336.1 331.6,328.5 332.1,334.6 332.6,327.9 333.1,335.2 333.6,327.8 334.1,336.7 334.6,328.4 335.1,334.2 335.6,328.8 336.1,333.5 336.6,326.9 337.1,333.9 337.6,326.1 338.1,334.4 338.6,326.4 339.1,334.4 339.6,327 340.1,335.7 340.6,327.1 341.1,334.3 341.6,327 342.1,334.1 342.6,326.7 343.1,333.4 343.6,325.2 344.1,333.7 344.6,326.3 345.1,333.6 345.6,326 346.1,333.3 346.6,326.4 347.1,333 347.6,326.2 348.1,333.3 348.6,326.3 349.1,333.8 349.6,325.4 350.1,333.7 350.6,325.8 351.1,333.4 351.6,325.6 352.1,333.1 352.6,324.2 353.1,332 353.6,325.3 354.1,332.4 354.6,326.3 355.1,332.6 355.6,325.5 356.1,332.6 356.6,324 357.1,331.6 357.6,324.3 358.1,330.8 358.6,324.8 359.1,334 359.6,324.4 360.1,331.5 360.6,325.3 361.1,331.9 361.6,324.8 362.1,330.3 362.6,323.2 363.1,333.5 363.6,323.9 364.1,331.8 364.6,323.9 365.1,331.3 365.6,323.9 366.1,330.2 366.6,324 367.1,330.4 367.6,324 368.1,330.1 368.6,324.6 369.1,331.9 369.6,324.2 370.1,329.7 370.6,323.4 371.1,330.8 371.6,323.6 372.1,330.6 372.6,325 373.1,330.7 373.6,323.4 374.1,330.5 374.6,322.4 375.1,330.6 375.6,322.6 376.1,330.5 376.6,324.4 377.1,330.3 377.6,322.5 378.1,330.3 378.6,323.9 379.1,329.2 379.6,322.9 380.1,329 380.6,323.2 381.1,330.1 381.6,322.8 382.1,330.3 382.6,324 383.1,330 383.6,323.6 384.1,329.8 384.6,323 385.1,328.5 385.6,322.5 386.1,329.9 386.6,321.8 387.1,330.7 387.6,321.8 388.1,330.2 388.6,323.9 389.1,330.1 389.6,322.5 390.1,329.9 390.6,320.7 391.1,329.8 391.6,322.8 392.1,330.4 392.6,323.3 393.1,330.5 393.6,322 394.1,330.4 394.6,323.2 395.1,330.6 395.6,323.2 396.1,329.9 396.6,323 397.1,328.9 397.6,322.9 398.1,329.5 398.6,320.7 399.1,329.8 399.6,322.5 400.1,328.4 400.6,322.3 401.1,327.9 401.6,322.7 402.1,329.4 402.6,321.3 403.1,328.9 403.6,321.5 404.1,328.9 404.6,323.3 405.1,329.4 405.6,322.1 406.1,329.7 406.6,321.6 407.1,391.2 407.6,407.4 408.1,400.1 408.6,364.8 409.1,350.4 409.6,344.3 410.1,370.5 410.6,389.1 411.1,404.8 411.6,387.6 412.1,370.8 412.6,350.1 413.1,357.7 413.6,366.5 414.1,391.5 414.6,392.2 415.1,389.5 415.6,368.5 416.1,361.4 416.6,355.6 417.1,375 417.6,381.9 418.1,393.5 418.6,381.1 419.1,374.9 419.6,358.7 420.1,367.2 420.6,367.8 421.1,385 421.6,383.2 422.1,385.5 422.6,368.4 423.1,368.3 423.6,361.4 424.1,376.8 424.6,376.9 425.1,385.9 425.6,375.6 426.1,376.8 426.6,364 427.1,372.2 427.6,369.8 428.1,383 428.6,376.3 429.1,381.9 429.6,369.8 430.1,373.8 430.6,366.5 431.1,377.2 431.6,372.4 432.1,382.8 432.6,374.2 433.1,376.5 433.6,367.4 434.1,375 434.6,370.8 435.1,380.3 435.6,375.1 436.1,379.4 436.6,370.7 437.1,376.1 437.6,368.8 438.1,377.5 438.6,372.7 439.1,380 439.6,371.7 440.1,378 440.6,368 441.1,376.8 441.6,369.4 442.1,379.7 442.6,373.3 443.1,379.7 443.6,369.7 444.1,376.4 444.6,368.4 445.1,378.6 445.6,370.8 446.1,380.7 446.6,370.7 447.1,377.5 447.6,368.3 448.1,376.1 448.6,369.4 449.1,379.4 449.6,372.9 450.1,379.8 450.6,370.4 451.1,377 451.6,370 452.1,378.6 452.6,371.8 453.1,378.3 453.6,370.3 454.1,377.9 454.6,369.4 455.1,376.9 455.6,370.2 456.1,379 456.6,368.3 457.1,379.6 457.6,369.4 458.1,378.3 458.6,370 459.1,378.7 459.6,371.4 460.1,380.4 460.6,371.2 461.1,379.1 461.6,370.1 462.1,377.4 462.6,371 463.1,377.4 463.6,370.1 464.1,379.5 464.6,369.4 465.1,377.9 465.6,369 466.1,377.1 466.6,370.7 467.1,379.1 467.6,370.1 468.1,377.8 468.6,370 469.1,377.3 469.6,368.9 470.1,377.7 470.6,370.6 471.1,377.9 471.6,370.4 472.1,379 472.6,370.9 473.1,378.3 473.6,371 474.1,379.8 474.6,371.4 475.1,378 475.6,371.6 476.1,377.4 476.6,370.1 477.1,376.5 477.6,369.7 478.1,376.6 478.6,370.5 479.1,377.8 479.6,370.3 480.1,377 480.6,370.7 481.1,377.3 481.6,369.7 482.1,378 482.6,370.6 483.1,377.7 483.6,369.6 484.1,378.7 484.6,369.4 485.1,378 485.6,369.7 486.1,377 486.6,371.7 487.1,377 487.6,369.8 488.1,376.7 488.6,370.4 489.1,379.7 489.6,369.3 490.1,378.1 490.6,370.4 491.1,379.1 491.6,369.6 492.1,378 492.6,370.8 493.1,378.4 493.6,369.6 494.1,378.1 494.6,369 495.1,378.8 495.6,366 496.1,363.4 496.6,353.6 497.1,362.1 497.6,353.5 498.1,360.4 498.6,354.2 499.1,359.7 499.6,353.6 500.1,360.5 500.6,349.6 501.1,360.3 501.6,352.2 502.1,360.6 502.6,351.7 503.1,358.2 503.6,351.1 504.1,357.7 504.6,351.6 505.1,357.8 505.6,350.8 506.1,357.5 506.6,351 507.1,357.4 507.6,350.8 508.1,357.6 508.6,350.8 509.1,359.2 509.6,350.7 510.1,356.8 510.6,350.6 511.1,357.3 511.6,349.2 512.1,357.1 512.6,348.1 513.1,354.7 513.6,348.4 514.1,355.9 514.6,347.2 515.1,355.4 515.6,346.4 516.1,355.9 516.6,347 517.1,354.6 517.6,347.4 518.1,353.9 518.6,346.7 519.1,354.4 519.6,346.2 520.1,353.9 520.6,346.6 521.1,352.9 521.6,347.1 522.1,353.1 522.6,346.2 523.1,352.9 523.6,345.2 524.1,351.3 524.6,345.6 525.1,351.6 525.6,345.3 526.1,351.2 526.6,344.4 527.1,350.1 527.6,343.8 528.1,351.8 528.6,342.5 529.1,352.1 529.6,344.9 530.1,350.4 530.6,344.6 531.1,349.7 531.6,343.5 532.1,349.2 532.6,343 533.1,349.5 533.6,341.5 534.1,349.1 534.6,342 535.1,349 535.6,341.5 536.1,350 536.6,340.8 537.1,348.9 537.6,340.8 538.1,347.5 538.6,339.7 539.1,348.5 539.6,341.7 540.1,348.2 540.6,340.7 541.1,347.7 541.6,338.1 542.1,347.2 542.6,339.5 543.1,346.4 543.6,336 544.1,346.6 544.6,339 545.1,347.4 545.6,338.9 546.1,347 546.6,337.8 547.1,346.4 547.6,337.6 548.1,344.7 548.6,337.7 549.1,346 549.6,338.7 550.1,344.4 550.6,337.7 551.1,345.4 551.6,336.5 552.1,342.8 552.6,336.9 553.1,346.2 553.6,337 554.1,344.3 554.6,337 555.1,342.8 555.6,335.7 556.1,344.4 556.6,336.9 557.1,343.7 557.6,335.3 558.1,341.9 558.6,336.8 559.1,343.9 559.6,335.2 560.1,342.7 560.6,335.2 561.1,342.4 561.6,335.4 562.1,342.1 562.6,334.7 563.1,342.5 563.6,334.3 564.1,341.8 564.6,334.7 565.1,341.5 565.6,333.7 566.1,341.5 566.6,334.1 567.1,341.3 567.6,333.6 568.1,341.6 568.6,332.8 569.1,341.2 569.6,332.6 570.1,339.2 570.6,333.5 571.1,339 571.6,331.6 572.1,340.2 572.6,333.3 573.1,340.6 573.6,332.9 574.1,340.3 574.6,331.8 575.1,338.7 575.6,332.1 576.1,337.9 576.6,332.1 577.1,338.5 577.6,331 578.1,336.8 578.6,329.4 579.1,337.9 579.6,330.6 580.1,337.3 580.6,330.5 581.1,337.5 581.6,330.6 582.1,336.4 582.6,331 583.1,336.7 583.6,330.6 584.1,336.8 584.6,329.1 585.1,338.2 585.6,329 586.1,337.2 586.6,330.1 587.1,336.9 587.6,330.1 588.1,336.7 588.6,329.4 589.1,336.6 589.6,329.3 590.1,336.6 590.6,328.7 591.1,335.2 591.6,329.9 592.1,335.3 592.6,328.7 593.1,335.6 593.6,330.2 594.1,334.5 594.6,328.8 595.1,334.5 595.6,328 596.1,335 596.6,327.5 597.1,334.4 597.6,328.1 598.1,335.1 598.6,328.2 599.1,335.1 599.6,326.9 600.1,338 600.6,327.3 601.1,334 601.6,327.4 602.1,333.5 602.6,326.4 603.1,333 603.6,325.9 604.1,333.1 604.6,327.5 605.1,334.5 605.6,326.9 606.1,333.2 606.6,327.6 607.1,333.5 607.6,326.2 608.1,334.3 608.6,327.4 609.1,332.7 609.6,326.3 610.1,332.8 610.6,327 611.1,333.5 611.6,326.6 612.1,332.5 612.6,324.6 613.1,332.9 613.6,327 614.1,333.8 614.6,327 615.1,331.6 615.6,325.1 616.1,331.7 616.6,325.1 617.1,331.9 617.6,323.9 618.1,332.4 618.6,324.9 619.1,333.3 619.6,325.5 620.1,332.9 620.6,324.4 621.1,332.1 621.6,324.3 622.1,331.5 622.6,323.5 623.1,331.4 623.6,324.1 624.1,331.7 624.6,324.7 625.1,331.5 625.6,323.8 626.1,331.9 626.6,323.4 627.1,331 627.6,322.7 628.1,331.8 628.6,324.9 629.1,331.5 629.6,324.9 630.1,330.9 630.6,323.7 631.1,331.7 631.6,323.1 632.1,330.9 632.6,324.4 633.1,331.2 633.6,324.4 634.1,331.4 634.6,324.2 635.1,331 635.6,324.1 636.1,331.2 636.6,323.4 637.1,331.1 637.6,323 638.1,331.8 638.6,322.4 639.1,330.6 639.6,323.3 640.1,329.7 640.6,323.7 641.1,330.3 641.6,322.3 642.1,330.6 642.6,322.5 643.1,329.5 643.6,321.4 644.1,331 644.6,322 645.1,330.5 645.6,323.3 646.1,329.8 646.6,322.5 647.1,329.4 647.6,320.1 648.1,329.9 648.6,322.8 649.1,330.8 649.6,324.2 650.1,330.1 650.6,321.9 651.1,330.4 651.6,323.6 652.1,329.5 652.6,324 653.1,330.2 653.6,323.8 654.1,328.2 654.6,322.6 655.1,329 655.6,322.8 656.1,331.7 656.6,322.7 657.1,330.4 657.6,321.7 658.1,329.9 658.6,322.7 659.1,329.6 659.6,322.5 660.1,329.9 660.6,322.4 661.1,329.9 661.6,320.8 662.1,329.7 662.6,322.1 663.1,331.1 663.6,323.2 664.1,329.2 664.6,322.5 665.1,329.2 665.6,321 666.1,329.1 666.6,322.1 667.1,330.6 667.6,322.7 668.1,329.3 668.6,352.2 669.1,407.5 669.6,406.7 670.1,388 670.6,353.5 671.1,346.1 671.6,350.9 672.1,380.4 672.6,397.9 673.1,403.7 673.6,380.9 674.1,364.3 674.6,348.5 675.1,361.8 675.6,375.8 676.1,394.3 676.6,389.5 677.1,383 677.6,360.6 678.1,361.7 678.6,360 679.1,381.1 679.6,385.4 680.1,392 680.6,376.3 681.1,370.8 681.6,357.9 682.1,369.1 682.6,372.6 683.1,387.2 683.6,381.7 684.1,382.1 684.6,365.1 685.1,369.7 685.6,365.1 686.1,379.3 686.6,377.6 687.1,385.9 687.6,373.1 688.1,374.2 688.6,363.4 689.1,374.1 689.6,370.5 690.1,384.3 690.6,375.7 691.1,380.3 691.6,368.9 692.1,372.6 692.6,367.1 693.1,379.2 693.6,376.7 694.1,382.8 694.6,372.2 695.1,377.8 695.6,366.6 696.1,374.9 696.6,370.2 697.1,381.5 697.6,373.8 698.1,379.6 698.6,368.5 699.1,375.9 699.6,368.5 700.1,379.5 700.6,374.3 701.1,381 701.6,372.5 702.1,376.6 702.6,368 703.1,376.3 703.6,371.3 704.1,379.7 704.6,372.5 705.1,379 705.6,368.3 706.1,376.4 706.6,370.8 707.1,378 707.6,371.5 708.1,379.4 708.6,371.2 709.1,377.5 709.6,368.9 710.1,378 710.6,371.4 711.1,378.6 711.6,371.9 712.1,377.5 712.6,369.7 713.1,375.1 713.6,368.8 714.1,379.4 714.6,371.2 715.1,378.1 715.6,371.3 716.1,377.2 716.6,369.4 717.1,378 717.6,369.9 718.1,378.1 718.6,369.9 719.1,377.6 719.6,369 720.1,377.6 720.6,371 721.1,378.6 721.6,371 722.1,379 722.6,370.7 723.1,377.9 723.6,369.1 724.1,378.6 724.6,370.3 725.1,379.6 725.6,371.1 726.1,379.2 726.6,370.4 727.1,377.9 727.6,370.7 728.1,378.3 728.6,370 729.1,377.9 729.6,370.8 730.1,376.9 730.6,370.3 731.1,377.4 731.6,370 732.1,377.6 732.6,369.9 733.1,377.9 733.6,369.8 734.1,378.5 734.6,369.3 735.1,379.3 735.6,370.6 736.1,377.4 736.6,370.3 737.1,377.7 737.6,369.8 738.1,378.4 738.6,371.7 739.1,377.8 739.6,371.3 740.1,378.1 740.6,370.8 741.1,378 741.6,370.7 742.1,377.6 742.6,370.6 743.1,378.5 743.6,370.9 744.1,378.2 744.6,368.4 745.1,377.5 745.6,370 746.1,379.3 746.6,371.3 747.1,381.5 747.6,371.1 748.1,379.5 748.6,368.9 749.1,377.9 749.6,371.2 750.1,377.6 750.6,370.6 751.1,379.1 751.6,370.7 752.1,378.4 752.6,369.2 753.1,377.5 753.6,367.6 754.1,378.3 754.6,368.7 755.1,377.6 755.6,369.5 756.1,372.4 756.6,362.2 757.1,361.4 757.6,355.6 758.1,363.7 758.6,354.8 759.1,361.9 759.6,353.1 760.1,361.2 760.6,353.4 761.1,361.3 761.6,352.3 762.1,359.6 762.6,352.3 763.1,361.1 763.6,352.9 764.1,358.5 764.6,352.3 765.1,359.1 765.6,351 766.1,357.7 766.6,350.9 767.1,358.5 767.6,351.5 768.1,357.6 768.6,351.2 769.1,357.9 769.6,351.1 770.1,357.1 770.6,350.4 771.1,356.2 771.6,348.5 772.1,357.1 772.6,349.2 773.1,355.9 773.6,349 774.1,356.8 774.6,348.7 775.1,356.1 775.6,348.8 776.1,354.6 776.6,348.5 777.1,354.7 777.6,347.9 778.1,355.5 778.6,346.2 779.1,355 779.6,346 780.1,354.3 780.6,347.1 781.1,354.9 781.6,345.8 782.1,353.7 782.6,345.9 783.1,353.3 783.6,346 784.1,352 784.6,345.5 785.1,352.4 785.6,346.2 786.1,351.4 786.6,345.1 787.1,351.5 787.6,344.5 788.1,350.8 788.6,344.7 789.1,350.5 789.6,343.5 790.1,349.9 790.6,343.1 791.1,349.6 791.6,343.2 792.1,350.5 792.6,343.4 793.1,350.7 793.6,340.7 794.1,350.8 794.6,341.6 795.1,349.7 795.6,342.6 796.1,348.8 796.6,341.5 797.1,349.1 797.6,342.6 798.1,348.9 798.6,341.4 799.1,348.1 799.6,340.5 800.1,348 800.6,339.4 801.1,346.5 801.6,341.2 802.1,347.2 802.6,340.8 803.1,348.5 803.6,339.2 804.1,347.3 804.6,338.3 805.1,346.2 805.6,339 806.1,346.9 806.6,340 807.1,345.8 807.6,337.8 808.1,346.6 808.6,337.7 809.1,344.2"/>
<polyline stroke="#ff0000" points="3.6,143.5 4.1,151.2 4.6,143.4 5.1,150.8 5.6,144.2 6.1,150.9 6.6,144.2 7.1,152.3 7.6,143.8 8.1,151.4 8.6,144 9.1,152 9.6,144.8 10.1,151.6 10.6,144.1 11.1,151.5 11.6,143.3 12.1,151.5 12.6,142.8 13.1,152 13.6,143 14.1,152.6 14.6,143.8 15.1,152.1 15.6,143 16.1,151.8 16.6,144.7 17.1,152.2 17.6,144.4 18.1,151.8 18.6,143.6 19.1,151.6 19.6,143.3 20.1,152.9 20.6,143.6 21.1,151.2 21.6,144.2 22.1,151.7 22.6,143.1 23.1,151.4 23.6,143.8 24.1,153.6 24.6,142.9 25.1,151 25.6,143.5 26.1,151.6 26.6,142.9 27.1,151.4 27.6,141.3 28.1,152.4 28.6,142.9 29.1,150.7 29.6,143.4 30.1,151.9 30.6,142.9 31.1,151 31.6,143.9 32.1,150.8 32.6,143.4 33.1,152 33.6,143.2 34.1,151.8 34.6,145.2 35.1,152.4 35.6,144.5 36.1,152.9 36.6,140.6 37.1,151.8 37.6,144.9 38.1,152.9 38.6,143.8 39.1,152.2 39.6,143.5 40.1,152.3 40.6,144.1 41.1,150.9 41.6,143.5 42.1,152.8 42.6,144 43.1,151.5 43.6,142.9 44.1,151.7 44.6,144.2 45.1,151.1 45.6,141.8 46.1,151.1 46.6,142.3 47.1,151.7 47.6,143.1 48.1,152.7 48.6,144 49.1,152.9 49.6,144.1 50.1,151.4 50.6,143.9 51.1,151.1 51.6,143.1 52.1,150.9 52.6,142.9 53.1,151.3 53.6,142.6 54.1,152.1 54.6,141.7 55.1,152 55.6,143.7 56.1,152.5 56.6,143.2 57.1,151.4 57.6,143.9 58.1,151.7 58.6,142.3 59.1,151.6 59.6,143.7 60.1,150.8 60.6,143.6 61.1,151.3 61.6,143.4 62.1,152 62.6,143.6 63.1,153 63.6,144.3 64.1,152.3 64.6,142.8 65.1,153.6 65.6,143.4 66.1,152.4 66.6,144.2 67.1,151.9 67.6,143 68.1,154.7 68.6,143.4 69.1,151.2 69.6,143.7 70.1,151.9 70.6,144.7 71.1,151.1 71.6,144.4 72.1,151.5 72.6,144.3 73.1,150.8 73.6,143.7 74.1,152.8 74.6,143.4 75.1,151.8 75.6,143.6 76.1,150.8 76.6,142.8 77.1,151.4 77.6,143 78.1,152.2 78.6,143.7 79.1,152.2 79.6,146 80.1,152.1 80.6,144 81.1,151.4 81.6,143.1 82.1,152.2 82.6,143.8 83.1,151.3 83.6,142.5 84.1,152.3 84.6,144.1 85.1,150.2 85.6,143 86.1,152.2 86.6,143.1 87.1,151.7 87.6,144.8 88.1,151 88.6,142.4 89.1,151.5 89.6,143.9 90.1,151.2 90.6,143.4 91.1,151.2 91.6,142.3 92.1,150.7 92.6,144.6 93.1,151.2 93.6,144.1 94.1,153.4 94.6,142.9 95.1,152.3 95.6,144.8 96.1,152.2 96.6,142.3 97.1,151.2 97.6,143.4 98.1,151.9 98.6,144.7 99.1,152.2 99.6,144.2 100.1,151.2 100.6,143.3 101.1,152.2 101.6,143.7 102.1,150.7 102.6,143.2 103.1,150.4 103.6,142.2 104.1,151.7 104.6,142.9 105.1,151.2 105.6,143.2 106.1,151.6 106.6,142.9 107.1,152.8 107.6,143.6 108.1,153.6 108.6,144.7 109.1,152.2 109.6,142.6 110.1,151.1 110.6,142.5 111.1,150.5 111.6,139.9 112.1,150.8 112.6,144.2 113.1,150.7 113.6,144.4 114.1,150.9 114.6,144 115.1,152.7 115.6,145.2 116.1,150.7 116.6,142.2 117.1,153.8 117.6,142.4 118.1,150.2 118.6,143.6 119.1,151.2 119.6,143.5 120.1,151.6 120.6,142.6 121.1,153.2 121.6,142.4 122.1,150.6 122.6,143.7 123.1,152.1 123.6,144.2 124.1,151.1 124.6,143.4 125.1,151.6 125.6,144 126.1,152.3 126.6,143.4 127.1,152.9 127.6,144 128.1,152.8 128.6,143.1 129.1,152.8 129.6,143.6 130.1,151.8 130.6,142.6 131.1,151.9 131.6,144 132.1,151.1 132.6,143.2 133.1,152 133.6,143.7 134.1,150.8 134.6,142.8 135.1,150.7 135.6,143 136.1,151.4 136.6,143.4 137.1,152.2 137.6,143.5 138.1,153.6 138.6,144.6 139.1,152.1 139.6,144 140.1,151.7 140.6,143.4 141.1,151.4 141.6,143.5 142.1,152.8 142.6,143.3 143.1,152.6 143.6,143.9 144.1,150.6 144.6,142.5 145.1,151.9 145.6,142.9 146.1,152.7 146.6,180.2 147.1,284.4 147.6,367.5 148.1,362.6 148.6,274.4 149.1,205.6 149.6,181.7 150.1,213.4 150.6,262.7 151.1,303.9 151.6,299.7 152.1,270 152.6,225.9 153.1,215.1 153.6,226.4 154.1,268 154.6,291.3 155.1,298.2 155.6,269.1 156.1,245.3 156.6,225.4 157.1,242.2 157.6,260.8 158.1,287.6 158.6,285.6 159.1,275.3 159.6,247.7 160.1,243 160.6,242.1 161.1,265.2 161.6,274 162.1,284.9 162.6,267.8 163.1,259.5 163.6,242.5 164.1,250.5 164.6,256.6 165.1,276.3 165.6,271.4 166.1,274.7 166.6,253.9 167.1,254.9 167.6,248 168.1,264.3 168.6,265.7 169.1,276.5 169.6,265.2 170.1,264.4 170.6,250.4 171.1,257.9 171.6,256.5 172.1,270 172.6,265.4 173.1,271.2 173.6,258.2 174.1,261 174.6,253.3 175.1,263.9 175.6,261.7 176.1,272.1 176.6,263 177.1,266.3 177.6,255.3 178.1,262.3 178.6,257.5 179.1,267.1 179.6,262.7 180.1,269.7 180.6,258.9 181.1,265.5 181.6,254.7 182.1,264.5 182.6,259.7 183.1,270.7 183.6,260.8 184.1,266.2 184.6,255.4 185.1,264 185.6,256.4 186.1,266.5 186.6,259.4 187.1,268.2 187.6,258.9 188.1,266 188.6,256.8 189.1,265.6 189.6,258.3 190.1,266.1 190.6,258.9 191.1,266.5 191.6,257.8 192.1,264.6 192.6,257.4 193.1,265.2 193.6,259.1 194.1,267.7 194.6,258.6 195.1,266.9 195.6,258.4 196.1,265.4 196.6,257.8 197.1,266.4 197.6,259 198.1,265.9 198.6,257.3 199.1,265.5 199.6,258.1 200.1,266.1 200.6,258.9 201.1,266.6 201.6,257.9 202.1,265.1 202.6,258.5 203.1,265 203.6,257.1 204.1,265.4 204.6,257.8 205.1,266.5 205.6,256.8 206.1,267.3 206.6,257.2 207.1,265.4 207.6,257.6 208.1,265.8 208.6,257.7 209.1,265.3 209.6,258 210.1,265.8 210.6,258.3 211.1,266.2 211.6,258.3 212.1,266.4 212.6,258.3 213.1,265.1 213.6,258.2 214.1,266.6 214.6,258.1 215.1,265.4 215.6,257.7 216.1,264.9 216.6,257.4 217.1,265.3 217.6,257.4 218.1,266.4 218.6,258.1 219.1,265.3 219.6,255.6 220.1,265.4 220.6,256.8 221.1,266.6 221.6,257 222.1,265.4 222.6,257.2 223.1,265.3 223.6,257.1 224.1,265.1 224.6,257.9 225.1,265.7 225.6,257.6 226.1,265.2 226.6,258.5 227.1,265.1 227.6,257.1 228.1,265.9 228.6,256.5 229.1,265.9 229.6,256.7 230.1,265.3 230.6,257.8 231.1,265.1 231.6,257.2 232.1,265.2 232.6,257.1 233.1,266.2 233.6,224.6 234.1,180.5 234.6,140.2 235.1,150.6 235.6,141.2 236.1,149.4 236.6,141.2 237.1,147.8 237.6,139.4 238.1,147.8 238.6,141.1 239.1,148.5 239.6,140.9 240.1,149.3 240.6,140.9 241.1,149.6 241.6,141.9 242.1,150.7 242.6,140 243.1,149.3 243.6,139.9 244.1,150.2 244.6,140.9 245.1,149.3 245.6,142.1 246.1,150.4 246.6,141.9 247.1,149.4 247.6,143.5 248.1,150.2 248.6,142.7 249.1,150.4 249.6,142.1 250.1,150.4 250.6,139.7 251.1,150.6 251.6,140.5 252.1,151.2 252.6,143.1 253.1,149.7 253.6,141.8 254.1,150.1 254.6,142.3 255.1,149.9 255.6,143 256.1,150.3 256.6,142.7 257.1,151.2 257.6,141.2 258.1,150.5 258.6,141.6 259.1,151.4 259.6,141.6 260.1,150.7 260.6,143.2 261.1,151 261.6,142.3 262.1,150.7 262.6,143.3 263.1,150.9 263.6,143.2 264.1,150.1 264.6,142.7 265.1,151.8 265.6,142.8 266.1,150.1 266.6,142.6 267.1,151.5 267.6,143.3 268.1,150.8 268.6,143.9 269.1,151.8 269.6,142.5 270.1,150.4 270.6,143.5 271.1,149.6 271.6,143.5 272.1,151.3 272.6,143.1 273.1,151.2 273.6,142.1 274.1,150.4 274.6,143.6 275.1,152.1 275.6,140.6 276.1,150.9 276.6,144.1 277.1,150.1 277.6,142.6 278.1,151.9 278.6,143.4 279.1,152.1 279.6,142.7 280.1,151.4 280.6,144.2 281.1,151.5 281.6,143.4 282.1,150 282.6,142.7 283.1,151.4 283.6,143.4 284.1,152.3 284.6,144 285.1,151.2 285.6,144.2 286.1,150 286.6,142.8 287.1,150.5 287.6,143.5 288.1,150.7 288.6,143.1 289.1,152 289.6,143.8 290.1,150.9 290.6,142.4 291.1,152.7 291.6,142.7 292.1,152.3 292.6,143.1 293.1,152 293.6,143 294.1,151.2 294.6,143.2 295.1,150.7 295.6,144.3 296.1,151.7 296.6,143.8 297.1,150.9 297.6,143.5 298.1,151.4 298.6,142.6 299.1,151.3 299.6,143.5 300.1,151 300.6,143.7 301.1,151.4 301.6,144.5 302.1,151.9 302.6,143.5 303.1,151.5 303.6,143.8 304.1,151.8 304.6,143.7 305.1,150.2 305.6,142.8 306.1,151.7 306.6,143 307.1,151.9 307.6,144.5 308.1,152.9 308.6,143.3 309.1,152.4 309.6,143 310.1,151.7 310.6,143.2 311.1,152 311.6,143 312.1,151 312.6,143.7 313.1,151.8 313.6,143.9 314.1,150.8 314.6,144.4 315.1,151.2 315.6,143 316.1,154.3 316.6,143.5 317.1,150.5 317.6,144 318.1,150.4 318.6,143.9 319.1,151.7 319.6,144.3 320.1,151 320.6,141.9 321.1,151.6 321.6,139.8 322.1,150.4 322.6,145 323.1,151.3 323.6,143 324.1,150.5 324.6,141.9 325.1,151.4 325.6,144.2 326.1,150.8 326.6,143.2 327.1,150.2 327.6,143.1 328.1,151.1 328.6,143.3 329.1,151.9 329.6,143.2 330.1,150.9 330.6,143.2 331.1,151.3 331.6,143.3 332.1,150.3 332.6,144.6 333.1,152 333.6,142.6 334.1,151.1 334.6,143.2 335.1,151.1 335.6,144.5 336.1,152.3 336.6,143.4 337.1,151.8 337.6,143 338.1,152.8 338.6,143.5 339.1,152.1 339.6,143.3 340.1,150.6 340.6,142.4 341.1,151.7 341.6,143.1 342.1,151 342.6,142.8 343.1,151.8 343.6,143.9 344.1,152.6 344.6,142.8 345.1,152.3 345.6,143.8 346.1,151.2 346.6,143.4 347.1,151.9 347.6,144.7 348.1,152.3 348.6,144.1 349.1,150.8 349.6,143.5 350.1,152.1 350.6,142.6 351.1,151.5 351.6,143.2 352.1,152 352.6,144.1 353.1,152.3 353.6,144.4 354.1,151.6 354.6,144.7 355.1,152.4 355.6,143.6 356.1,153.1 356.6,143.8 357.1,150.6 357.6,144.2 358.1,151.1 358.6,141.9 359.1,151.4 359.6,143.6 360.1,150.4 360.6,143.4 361.1,150.6 361.6,142.6 362.1,150.9 362.6,143.6 363.1,152.4 363.6,143.6 364.1,151.1 364.6,143.6 365.1,150.9 365.6,142.2 366.1,151.5 366.6,142.2 367.1,150.8 367.6,143.2 368.1,151.5 368.6,143.2 369.1,152.4 369.6,143.1 370.1,152 370.6,143.2 371.1,150.6 371.6,143.5 372.1,152.3 372.6,143.5 373.1,151.9 373.6,143.5 374.1,151.8 374.6,142.2 375.1,151.2 375.6,144.1 376.1,151.1 376.6,143.8 377.1,151.6 377.6,142.4 378.1,151.4 378.6,142.5 379.1,152.5 379.6,143.4 380.1,153.2 380.6,143.3 381.1,152.5 381.6,145 382.1,151.4 382.6,141.6 383.1,151.5 383.6,141.9 384.1,152.8 384.6,143.3 385.1,151.9 385.6,143.7 386.1,152.2 386.6,143.3 387.1,151.1 387.6,142.3 388.1,151.3 388.6,143.7 389.1,151.6 389.6,143.8 390.1,152.1 390.6,143.1 391.1,150.9 391.6,143.6 392.1,152.1 392.6,143.6 393.1,152.3 393.6,143.2 394.1,151.7 394.6,143.8 395.1,151 395.6,142.9 396.1,152.1 396.6,142.1 397.1,150.2 397.6,142.9 398.1,150.6 398.6,142.1 399.1,152.5 399.6,143.3 400.1,151.5 400.6,144.8 401.1,151.1 401.6,143.7 402.1,150.8 402.6,143.8 403.1,152.2 403.6,143.1 404.1,151.3 404.6,143.9 405.1,150.9 405.6,143.1 406.1,151.2 406.6,139.3 407.1,152.5 407.6,239.3 408.1,343.1 408.6,375.3 409.1,314 409.6,225.9 410.1,187.4 410.6,195.3 411.1,244.5 411.6,288.3 412.1,308.1 412.6,281.8 413.1,245.2 413.6,211.6 414.1,221.6 414.6,248.2 415.1,287.9 415.6,295.5 416.1,285.5 416.6,251.2 417.1,232.8 417.6,227.1 418.1,255.8 418.6,274 419.1,292.6 419.6,274.2 420.1,262.4 420.6,238.5 421.1,244 421.6,251.2 422.1,276.3 422.6,280 423.1,280.4 423.6,259.2 424.1,251.6 424.6,242.2 425.1,258.5 425.6,264.2 426.1,280.2 426.6,269.4 427.1,266.4 427.6,249.5 428.1,253.8 428.6,252.1 429.1,267.9 429.6,268.1 430.1,274.1 430.6,259.8 431.1,259.6 431.6,249.7 432.1,261.3 432.6,261.5 433.1,274.1 433.6,265.5 434.1,267.8 434.6,254.3 435.1,259.2 435.6,254.7 436.1,266.9 436.6,264.1 437.1,269.7 437.6,260 438.1,263.3 438.6,254.1 439.1,262 439.6,258 440.1,269.9 440.6,261 441.1,266.5 441.6,255.5 442.1,262.5 442.6,255.8 443.1,267.7 443.6,260 444.1,269 444.6,260.3 445.1,263.9 445.6,256.6 446.1,264.1 446.6,259 447.1,268.2 447.6,258.1 448.1,265 448.6,258.1 449.1,268.3 449.6,256.9 450.1,265.6 450.6,258.7 451.1,267.1 451.6,258.7 452.1,266.2 452.6,258.5 453.1,266.1 453.6,257.4 454.1,268 454.6,260.6 455.1,266.6 455.6,258.4 456.1,266.6 456.6,257.9 457.1,266.5 457.6,259.6 458.1,266.9 458.6,259.5 459.1,265.4 459.6,257.1 460.1,265.1 460.6,255.3 461.1,267 461.6,258.2 462.1,266.6 462.6,257 463.1,265.8 463.6,258.3 464.1,266 464.6,258.2 465.1,266.5 465.6,257.8 466.1,265.2 466.6,257.2 467.1,266 467.6,257.9 468.1,266.8 468.6,258.1 469.1,265.7 469.6,256.9 470.1,266.1 470.6,259 471.1,266 471.6,258.3 472.1,265.7 472.6,259.6 473.1,266.3 473.6,259.2 474.1,266 474.6,260 475.1,265.9 475.6,258.3 476.1,265.8 476.6,258.1 477.1,266.6 477.6,257.6 478.1,266.8 478.6,257.3 479.1,265.8 479.6,257 480.1,265.9 480.6,257.8 481.1,265.8 481.6,257.4 482.1,265.1 482.6,257.1 483.1,263.9 483.6,258.5 484.1,265 484.6,257.2 485.1,266.3 485.6,258.3 486.1,266.6 486.6,257.8 487.1,265.9 487.6,258.4 488.1,264.6 488.6,257.7 489.1,265.2 489.6,256 490.1,264.4 490.6,257.7 491.1,264 491.6,258.6 492.1,264.7 492.6,257.9 493.1,266.6 493.6,258.4 494.1,266.2 494.6,257.5 495.1,234.1 495.6,188.4 496.1,144.8 496.6,140.4 497.1,147.9 497.6,139.6 498.1,150.4 498.6,140.5 499.1,150.4 499.6,141.2 500.1,148.6 500.6,140.9 501.1,148.9 501.6,141.1 502.1,150.6 502.6,141.2 503.1,150.3 503.6,141.1 504.1,149.8 504.6,141.3 505.1,150 505.6,141.6 506.1,148.8 506.6,141.5 507.1,152.1 507.6,142.2 508.1,150.3 508.6,142.6 509.1,149 509.6,142.6 510.1,149 510.6,142.4 511.1,149.8 511.6,141.3 512.1,149.7 512.6,142.4 513.1,151.6 513.6,142.5 514.1,150.7 514.6,142.9 515.1,150.9 515.6,141.6 516.1,151 516.6,142.3 517.1,151 517.6,143 518.1,150.9 518.6,143.4 519.1,150.3 519.6,141.9 520.1,150.7 520.6,143 521.1,150.4 521.6,143.7 522.1,149.9 522.6,142.9 523.1,149.8 523.6,143.3 524.1,151.9 524.6,141.7 525.1,151.4 525.6,142.8 526.1,152.5 526.6,143.4 527.1,151.1 527.6,143.8 528.1,150.5 528.6,143.5 529.1,152.1 529.6,142.5 530.1,151.3 530.6,142.6 531.1,150.6 531.6,143.7 532.1,151.9 532.6,142.9 533.1,151.2 533.6,142.2 534.1,151.7 534.6,142.5 535.1,151.9 535.6,143.2 536.1,152.1 536.6,142.4 537.1,150.9 537.6,142.9 538.1,149.9 538.6,143.4 539.1,148.7 539.6,141.4 540.1,150 540.6,143.5 541.1,149.8 541.6,142.7 542.1,150.8 542.6,142.9 543.1,150.9 543.6,141 544.1,151.3 544.6,144 545.1,152.6 545.6,143.6 546.1,151.5 546.6,143.4 547.1,151.4 547.6,143.7 548.1,150.3 548.6,144.9 549.1,150.3 549.6,142.8 550.1,151.7 550.6,143.3 551.1,151.1 551.6,142.5 552.1,152.4 552.6,143.5 553.1,150.6 553.6,143 554.1,150.7 554.6,143 555.1,151.5 555.6,143.7 556.1,152.3 556.6,142.5 557.1,151.5 557.6,142.6 558.1,150.7 558.6,142.7 559.1,150.8 559.6,143.5 560.1,151.9 560.6,143.1 561.1,152.3 561.6,144.3 562.1,150.2 562.6,142 563.1,150.2 563.6,142.8 564.1,150.9 564.6,143.3 565.1,151.3 565.6,143.2 566.1,152.7 566.6,141.3 567.1,151.6 567.6,142.7 568.1,151.4 568.6,143.9 569.1,151.8 569.6,144.2 570.1,152.3 570.6,143.3 571.1,153.2 571.6,142.9 572.1,152.1 572.6,141.9 573.1,151.7 573.6,144.4 574.1,152.1 574.6,143.4 575.1,150.8 575.6,143.4 576.1,152.9 576.6,144.9 577.1,151.4 577.6,143.8 578.1,153.2 578.6,143.1 579.1,152.1 579.6,143.3 580.1,150.7 580.6,144.7 581.1,150.6 581.6,143.9 582.1,151.5 582.6,144.5 583.1,151.4 583.6,143.2 584.1,154 584.6,143.2 585.1,151.9 585.6,143.6 586.1,151.5 586.6,144.1 587.1,151.1 587.6,144.2 588.1,150.8 588.6,144.9 589.1,150.8 589.6,143.9 590.1,151.1 590.6,143.4 591.1,151.1 591.6,143.4 592.1,153 592.6,144.5 593.1,151.5 593.6,144.3 594.1,150 594.6,142.8 595.1,150.7 595.6,142.6 596.1,152.3 596.6,143.2 597.1,150.2 597.6,143.6 598.1,152 598.6,143 599.1,151.3 599.6,144.2 600.1,150.9 600.6,144.3 601.1,151.3 601.6,141.7 602.1,151.9 602.6,141.1 603.1,152.4 603.6,142.8 604.1,151.3 604.6,143.4 605.1,152.5 605.6,143.8 606.1,151 606.6,143.1 607.1,150.7 607.6,143.9 608.1,151.9 608.6,144.1 609.1,152.2 609.6,144.3 610.1,151.6 610.6,143.5 611.1,152.4 611.6,143.5 612.1,151.6 612.6,143.4 613.1,151.4 613.6,143.6 614.1,151.4 614.6,144.1 615.1,150.8 615.6,144.5 616.1,150.8 616.6,142 617.1,151.3 617.6,144 618.1,153 618.6,144.6 619.1,152.2 619.6,142.6 620.1,152.4 620.6,143 621.1,153.7 621.6,143 622.1,151.5 622.6,144.2 623.1,152 623.6,143.4 624.1,151.5 624.6,143.2 625.1,151.8 625.6,143.1 626.1,152 626.6,142.9 627.1,151.3 627.6,143.2 628.1,154.8 628.6,144.1 629.1,151.3 629.6,143.5 630.1,151.6 630.6,143.1 631.1,151.8 631.6,143.3 632.1,152.4 632.6,142.7 633.1,151.5 633.6,142.8 634.1,152.6 634.6,142.6 635.1,151.6 635.6,143.9 636.1,151.5 636.6,142.4 637.1,150.5 637.6,144 638.1,151.6 638.6,143.5 639.1,150.8 639.6,143.7 640.1,151.6 640.6,143.6 641.1,152.2 641.6,142.9 642.1,151.7 642.6,143.5 643.1,151.6 643.6,143.7 644.1,151.9 644.6,143.1 645.1,151.9 645.6,144.9 646.1,152.3 646.6,143.8 647.1,151.4 647.6,142.2 648.1,150.6 648.6,142.5 649.1,151.2 649.6,142.8 650.1,150.9 650.6,143.9 651.1,154.7 651.6,143.1 652.1,152 652.6,143.4 653.1,150.2 653.6,142.8 654.1,151.1 654.6,143.7 655.1,152.2 655.6,142 656.1,152.1 656.6,143.6 657.1,151 657.6,144.2 658.1,152 658.6,144.1 659.1,151.9 659.6,143.1 660.1,151.4 660.6,143.7 661.1,151.3 661.6,143.1 662.1,152.4 662.6,144.3 663.1,152.4 663.6,143.8 664.1,152.4 664.6,143.8 665.1,151 665.6,143.7 666.1,152.1 666.6,143.9 667.1,151.1 667.6,142.5 668.1,151 668.6,142.9 669.1,182.6 669.6,283.4 670.1,369.7 670.6,359.3 671.1,279.2 671.6,204 672.1,186.2 672.6,210.8 673.1,266.2 673.6,299.4 674.1,302.9 674.6,263.3 675.1,231.2 675.6,209.1 676.1,232.1 676.6,263.1 677.1,295.9 677.6,292.1 678.1,274.5 678.6,240.2 679.1,231.6 679.6,235.7 680.1,266.4 680.6,281.5 681.1,291.7 681.6,268.8 682.1,254.5 682.6,236.5 683.1,247.1 683.6,259.8 684.1,281.9 684.6,278.3 685.1,275.7 685.6,253.4 686.1,248.7 686.6,245.5 687.1,263.9 687.6,269.2 688.1,281.6 688.6,265.6 689.1,263.2 689.6,247 690.1,254.9 690.6,256.5 691.1,273.5 691.6,268.4 692.1,273.5 692.6,257.3 693.1,259.9 693.6,251.4 694.1,263.7 694.6,262.2 695.1,273.6 695.6,263.6 696.1,265.3 696.6,252.7 697.1,260.4 697.6,255.2 698.1,270.7 698.6,263.4 699.1,270.2 699.6,258.6 700.1,262.1 700.6,253.8 701.1,263.8 701.6,260.8 702.1,269.9 702.6,261.2 703.1,266.3 703.6,255.2 704.1,262.6 704.6,256.7 705.1,267.6 705.6,261.3 706.1,270 706.6,259 707.1,264.3 707.6,255.8 708.1,264.1 708.6,258.5 709.1,267.5 709.6,260.5 710.1,267.2 710.6,256.4 711.1,264.6 711.6,257.7 712.1,266.8 712.6,259.9 713.1,268.9 713.6,258.5 714.1,265.5 714.6,257.6 715.1,265.8 715.6,257.9 716.1,267.2 716.6,259.5 717.1,265.3 717.6,258.1 718.1,264.7 718.6,259.1 719.1,265.8 719.6,257.5 720.1,266.4 720.6,258.5 721.1,265 721.6,256.1 722.1,266.4 722.6,258.7 723.1,266.3 723.6,258.7 724.1,265.8 724.6,258.3 725.1,266.2 725.6,258.2 726.1,265.8 726.6,258.5 727.1,266.9 727.6,257.7 728.1,266.6 728.6,257.4 729.1,265.5 729.6,257.2 730.1,265.3 730.6,258.8 731.1,265.5 731.6,258.5 732.1,267.4 732.6,258.6 733.1,265.7 733.6,258.4 734.1,267 734.6,257.6 735.1,267.2 735.6,258.3 736.1,265.4 736.6,258.8 737.1,266.7 737.6,257.1 738.1,265.9 738.6,257.4 739.1,265.3 739.6,256.5 740.1,263.9 740.6,257.1 741.1,264.9 741.6,257.2 742.1,265.6 742.6,257.7 743.1,265.9 743.6,257.6 744.1,264.9 744.6,257.2 745.1,265.1 745.6,257.3 746.1,265.7 746.6,255.9 747.1,265.3 747.6,257.1 748.1,264.4 748.6,258.5 749.1,264 749.6,257.8 750.1,264.9 750.6,256.9 751.1,267 751.6,258.3 752.1,266.3 752.6,258.3 753.1,266.1 753.6,258.3 754.1,265.8 754.6,257.7 755.1,265.7 755.6,241.9 756.1,198.4 756.6,150.2 757.1,147.8 757.6,140.3 758.1,148.4 758.6,140.6 759.1,149.2 759.6,142.3 760.1,148.7 760.6,140.4 761.1,149.2 761.6,141.1 762.1,149 762.6,141 763.1,150.9 763.6,140.8 764.1,149.6 764.6,141.6 765.1,150.1 765.6,139 766.1,149 766.6,141.3 767.1,149 767.6,140.6 768.1,148.9 768.6,141.1 769.1,149.1 769.6,141.9 770.1,150.5 770.6,141.8 771.1,150.8 771.6,141.6 772.1,151.5 772.6,141.8 773.1,151 773.6,142.7 774.1,150.1 774.6,142.1 775.1,149.7 775.6,142.5 776.1,149.5 776.6,143.4 777.1,150.2 777.6,142.4 778.1,149 778.6,141.5 779.1,149.7 779.6,142.5 780.1,149.6 780.6,142.8 781.1,150.7 781.6,141.9 782.1,151 782.6,142.6 783.1,151.1 783.6,142.5 784.1,150.6 784.6,143.3 785.1,150.3 785.6,142.9 786.1,150 786.6,143.6 787.1,149.7 787.6,138.7 788.1,151.4 788.6,142.7 789.1,149.7 789.6,141.1 790.1,150.5 790.6,143 791.1,151.2 791.6,142 792.1,150.5 792.6,141.9 793.1,150.2 793.6,143.5 794.1,150 794.6,144 795.1,151.7 795.6,142.4 796.1,151.1 796.6,142.1 797.1,151 797.6,144.4 798.1,151.4 798.6,142.5 799.1,150.9 799.6,142.9 800.1,150.9 800.6,143.4 801.1,150.3 801.6,143.1 802.1,151.1 802.6,144.4 803.1,150.5 803.6,143.8 804.1,150.9 804.6,143.1 805.1,151.1 805.6,142.3 806.1,151.7 806.6,143.5 807.1,150.4 807.6,143.7 808.1,153.3 808.6,143.7 809.1,150.8"/>
<path d="M233.1 262L233.1 226L234.3 222L234.3 146M494.7 262L494.7 226L495.9 222L495.9 146M755.3 262L755.3 226L756.5 222L756.5 146M146.3 148L146.3 250M407.0 148L407.0 250M668.8 148L668.8 250" stroke="#ff0000" stroke-width="1.1"/>
<polyline stroke="#000" points="3.6,122.9 4.1,130 4.6,122.9 5.1,130.7 5.6,122.9 6.1,131.8 6.6,124.3 7.1,131.4 7.6,122.6 8.1,129.3 8.6,122.6 9.1,130.8 9.6,122.8 10.1,129.9 10.6,123 11.1,131.6 11.6,124.1 12.1,130.9 12.6,123.9 13.1,132.2 13.6,123.6 14.1,132.1 14.6,123 15.1,131.2 15.6,121.1 16.1,131.7 16.6,121.9 17.1,131.2 17.6,122.3 18.1,130.2 18.6,122.6 19.1,131.7 19.6,121.7 20.1,131.3 20.6,122.6 21.1,131.4 21.6,123.7 22.1,131.1 22.6,123.8 23.1,133.2 23.6,122.6 24.1,131.2 24.6,121.7 25.1,130.9 25.6,122.9 26.1,130.9 26.6,124.2 27.1,131.6 27.6,123.7 28.1,131.9 28.6,122.6 29.1,131 29.6,122.8 30.1,131.2 30.6,123.7 31.1,131.4 31.6,122.6 32.1,132.1 32.6,122.7 33.1,130.7 33.6,123.5 34.1,130 34.6,122.8 35.1,131.4 35.6,122 36.1,130.9 36.6,122.8 37.1,131.6 37.6,123 38.1,131.5 38.6,121.9 39.1,131.3 39.6,122.4 40.1,131.2 40.6,123.7 41.1,130.1 41.6,122.1 42.1,130.9 42.6,124.2 43.1,131.5 43.6,123.1 44.1,131.3 44.6,122 45.1,131.8 45.6,123.8 46.1,130.8 46.6,122.8 47.1,131.2 47.6,123.2 48.1,131.2 48.6,122.2 49.1,131 49.6,122.6 50.1,132 50.6,123.1 51.1,135.1 51.6,123.7 52.1,131.1 52.6,122.2 53.1,131.8 53.6,123.4 54.1,130.8 54.6,123.1 55.1,131.4 55.6,124.2 56.1,131.4 56.6,123.6 57.1,131.4 57.6,124.1 58.1,131.6 58.6,124 59.1,133.3 59.6,123.9 60.1,131.6 60.6,123.2 61.1,132.2 61.6,122.3 62.1,131.5 62.6,122.1 63.1,135.8 63.6,123.1 64.1,131.6 64.6,123.1 65.1,131.8 65.6,123.2 66.1,131.3 66.6,123.3 67.1,136 67.6,123.8 68.1,130.2 68.6,124.1 69.1,131 69.6,122.3 70.1,130.5 70.6,122.2 71.1,132.8 71.6,121.6 72.1,131.4 72.6,123.4 73.1,132.1 73.6,123.2 74.1,130.9 74.6,123.6 75.1,130.2 75.6,123.1 76.1,130.8 76.6,121.5 77.1,130.1 77.6,123.8 78.1,131.6 78.6,123.5 79.1,130.5 79.6,122 80.1,130.3 80.6,122.5 81.1,130.1 81.6,121.6 82.1,131.7 82.6,122.6 83.1,132.5 83.6,120.7 84.1,130.9 84.6,123.3 85.1,131.4 85.6,124.3 86.1,132.4 86.6,122.8 87.1,132.2 87.6,122.8 88.1,132.2 88.6,123.1 89.1,132.6 89.6,123.3 90.1,131.2 90.6,123.8 91.1,131.4 91.6,123.7 92.1,132 92.6,123 93.1,132 93.6,123.1 94.1,131.7 94.6,123.8 95.1,132.6 95.6,123.6 96.1,131.4 96.6,123.1 97.1,132 97.6,120.3 98.1,131.5 98.6,122.7 99.1,132.2 99.6,122.5 100.1,131.3 100.6,123.8 101.1,131.3 101.6,122.2 102.1,132.1 102.6,123.6 103.1,130.7 103.6,122.9 104.1,129.9 104.6,123 105.1,130.5 105.6,122.2 106.1,132 106.6,123.2 107.1,131.9 107.6,123.9 108.1,131.1 108.6,123.3 109.1,131.5 109.6,122.8 110.1,132.1 110.6,123.1 111.1,131.8 111.6,122.7 112.1,130.5 112.6,123.5 113.1,130.7 113.6,122.2 114.1,130.6 114.6,123 115.1,131.9 115.6,123.6 116.1,130.8 116.6,122.6 117.1,130.3 117.6,122.4 118.1,132.1 118.6,123.6 119.1,131.4 119.6,122.5 120.1,130.8 120.6,122.5 121.1,131.3 121.6,123 122.1,132.4 122.6,121.9 123.1,130.3 123.6,122.9 124.1,131.9 124.6,123.1 125.1,132.3 125.6,123.1 126.1,131 126.6,123.3 127.1,130.9 127.6,118.6 128.1,130.7 128.6,122.5 129.1,132.2 129.6,122.8 130.1,130.5 130.6,123.7 131.1,130.2 131.6,121.9 132.1,132 132.6,123.3 133.1,131.3 133.6,123.5 134.1,130.4 134.6,122 135.1,129.8 135.6,123.3 136.1,130.7 136.6,123.6 137.1,131.1 137.6,123.1 138.1,131.3 138.6,122.3 139.1,131.5 139.6,122.7 140.1,130.8 140.6,123.1 141.1,131.2 141.6,123.7 142.1,132 142.6,124 143.1,132.3 143.6,123.6 144.1,120.4 144.6,101.3 145.1,84.6 145.6,63.3 146.1,53.6 146.6,43.7 147.1,54.2 147.6,45.5 148.1,53.5 148.6,46.8 149.1,55 149.6,47.2 150.1,54.7 150.6,45.6 151.1,54.9 151.6,46.1 152.1,55.8 152.6,47.2 153.1,53.9 153.6,46.1 154.1,55.4 154.6,46.1 155.1,55.2 155.6,47 156.1,55.3 156.6,46.3 157.1,57.1 157.6,44.8 158.1,56.2 158.6,45.9 159.1,55.2 159.6,45.7 160.1,55.5 160.6,47.3 161.1,55.9 161.6,47.2 162.1,56.8 162.6,47 163.1,55.5 163.6,47.1 164.1,55.4 164.6,46.5 165.1,56.2 165.6,47.3 166.1,55.8 166.6,46 167.1,55.8 167.6,46.8 168.1,55.9 168.6,46.5 169.1,55.2 169.6,47.5 170.1,56.2 170.6,47.6 171.1,55.2 171.6,47.7 172.1,55.6 172.6,46.3 173.1,56.1 173.6,46.4 174.1,56.3 174.6,46.1 175.1,57.5 175.6,44.9 176.1,56.1 176.6,46 177.1,54.8 177.6,48.2 178.1,56.8 178.6,48.1 179.1,56.2 179.6,45.8 180.1,56.1 180.6,47.3 181.1,54.7 181.6,47.5 182.1,54.1 182.6,47.4 183.1,55.6 183.6,47.9 184.1,56 184.6,48.2 185.1,54.8 185.6,45.4 186.1,56.4 186.6,48.4 187.1,56.6 187.6,47.5 188.1,56.7 188.6,46.5 189.1,55.8 189.6,47.3 190.1,56.2 190.6,47.3 191.1,56.2 191.6,48.1 192.1,57.2 192.6,47.6 193.1,57.1 193.6,47.9 194.1,56.6 194.6,46 195.1,55.9 195.6,47 196.1,57.7 196.6,48.1 197.1,55.8 197.6,46.4 198.1,56.4 198.6,47.6 199.1,60.2 199.6,47.9 200.1,56.6 200.6,47.3 201.1,56.8 201.6,47 202.1,56.7 202.6,47.8 203.1,56.4 203.6,48.1 204.1,56.4 204.6,48.1 205.1,56.2 205.6,47.8 206.1,56.3 206.6,47.5 207.1,56.1 207.6,48.5 208.1,56.1 208.6,47.8 209.1,57.4 209.6,47.9 210.1,56.5 210.6,47 211.1,56.9 211.6,48.3 212.1,55.8 212.6,48.7 213.1,55.1 213.6,49 214.1,56 214.6,49.1 215.1,56.1 215.6,48.8 216.1,57.8 216.6,48.6 217.1,55.6 217.6,48 218.1,56 218.6,47.9 219.1,56.3 219.6,48.1 220.1,56.5 220.6,48.3 221.1,56.3 221.6,48.6 222.1,56.6 222.6,47.8 223.1,56.9 223.6,49.2 224.1,56.5 224.6,47.7 225.1,57.1 225.6,48.1 226.1,57.6 226.6,47.6 227.1,57.5 227.6,48.5 228.1,56.7 228.6,47.5 229.1,58.7 229.6,48.4 230.1,57.7 230.6,47.9 231.1,56.6 231.6,49.6 232.1,64.5 232.6,77.5 233.1,91.9 233.6,105.1 234.1,119.5 234.6,126.9 235.1,134.5 235.6,126 236.1,133.9 236.6,125.6 237.1,134.5 237.6,126.6 238.1,134 238.6,125.3 239.1,134.3 239.6,125.3 240.1,134.1 240.6,122.9 241.1,132.4 241.6,125.3 242.1,133.7 242.6,124.3 243.1,133.3 243.6,124 244.1,132.7 244.6,124.5 245.1,132.8 245.6,125.1 246.1,132.1 246.6,123.6 247.1,131 247.6,124.9 248.1,132.6 248.6,124.4 249.1,132.3 249.6,125.4 250.1,132.2 250.6,124.5 251.1,133.6 251.6,123.8 252.1,134.4 252.6,123.9 253.1,133.3 253.6,122.7 254.1,132.4 254.6,123.4 255.1,131.8 255.6,121.5 256.1,131.3 256.6,123.7 257.1,131.7 257.6,124.4 258.1,130.6 258.6,123.1 259.1,132.2 259.6,124 260.1,132.2 260.6,122.9 261.1,131.8 261.6,123.1 262.1,131.8 262.6,123.4 263.1,130.3 263.6,120.9 264.1,131.8 264.6,121.9 265.1,132.2 265.6,123.4 266.1,132.8 266.6,123.3 267.1,132.7 267.6,123.8 268.1,132 268.6,123.3 269.1,131.5 269.6,121.9 270.1,132.1 270.6,121.8 271.1,130.6 271.6,123.9 272.1,131.6 272.6,123.8 273.1,130.6 273.6,122.7 274.1,131.7 274.6,124.5 275.1,133.6 275.6,122.8 276.1,132.3 276.6,123.1 277.1,132.9 277.6,123.3 278.1,131.7 278.6,124.8 279.1,131.9 279.6,123.4 280.1,131 280.6,122.3 281.1,131.6 281.6,122.9 282.1,131.4 282.6,121.6 283.1,131.3 283.6,123.2 284.1,131.8 284.6,122.7 285.1,132.3 285.6,123 286.1,131.1 286.6,123.9 287.1,130.4 287.6,123.4 288.1,131.8 288.6,121.5 289.1,131.1 289.6,123.3 290.1,130.1 290.6,122.6 291.1,131.5 291.6,121.3 292.1,131.5 292.6,122.8 293.1,130.7 293.6,122.9 294.1,131.4 294.6,122.3 295.1,130.8 295.6,122.8 296.1,130.9 296.6,122.9 297.1,131.5 297.6,123.4 298.1,132.3 298.6,121.1 299.1,130.9 299.6,122.7 300.1,130.6 300.6,122.5 301.1,132.3 301.6,121.6 302.1,133.9 302.6,122.2 303.1,131.1 303.6,122.9 304.1,130.6 304.6,123.3 305.1,131.4 305.6,122.8 306.1,130.5 306.6,122.8 307.1,131.5 307.6,122.3 308.1,131.1 308.6,121.9 309.1,131.6 309.6,123.4 310.1,131.1 310.6,122.4 311.1,130.7 311.6,123.6 312.1,131.6 312.6,122.8 313.1,132.2 313.6,123.7 314.1,132.3 314.6,122.8 315.1,130.7 315.6,123.2 316.1,131.7 316.6,123.2 317.1,131.8 317.6,122.6 318.1,130.8 318.6,123.8 319.1,129.2 319.6,122.2 320.1,133.4 320.6,122.3 321.1,130.8 321.6,122.5 322.1,130.1 322.6,122 323.1,130.8 323.6,123.5 324.1,132.3 324.6,122.7 325.1,132.5 325.6,122.7 326.1,131.9 326.6,121.9 327.1,131.7 327.6,122.1 328.1,132.3 328.6,123.1 329.1,133 329.6,122.9 330.1,130.7 330.6,123.8 331.1,130.9 331.6,122.9 332.1,130.7 332.6,123 333.1,132.4 333.6,122.6 334.1,132.4 334.6,122.2 335.1,131.7 335.6,123.4 336.1,132.7 336.6,122.1 337.1,130.4 337.6,123.2 338.1,132.3 338.6,122.5 339.1,132.1 339.6,123.8 340.1,130.5 340.6,122.4 341.1,130.7 341.6,122.1 342.1,130.1 342.6,123 343.1,131.1 343.6,122.3 344.1,131.9 344.6,122.7 345.1,132.9 345.6,122.9 346.1,130.8 346.6,123.1 347.1,131.4 347.6,123.7 348.1,130.7 348.6,124 349.1,131.2 349.6,122.7 350.1,132.4 350.6,123.5 351.1,131.1 351.6,124 352.1,130.7 352.6,122.2 353.1,129.9 353.6,122.8 354.1,131 354.6,123.2 355.1,130.9 355.6,122.3 356.1,131.2 356.6,124.3 357.1,130.5 357.6,122.8 358.1,131 358.6,122.5 359.1,130.5 359.6,123.9 360.1,130.7 360.6,122.8 361.1,130.3 361.6,122.5 362.1,131.3 362.6,121.5 363.1,132.4 363.6,123 364.1,131.2 364.6,123.5 365.1,131 365.6,123.7 366.1,131.9 366.6,123.4 367.1,130.9 367.6,123.8 368.1,130 368.6,123.1 369.1,130.6 369.6,122.2 370.1,131.6 370.6,122.7 371.1,130.9 371.6,122.8 372.1,131.8 372.6,123.3 373.1,131.1 373.6,123.1 374.1,131.2 374.6,120.8 375.1,130.2 375.6,122.6 376.1,132.8 376.6,122.2 377.1,132 377.6,123.7 378.1,130.8 378.6,123.3 379.1,131.4 379.6,121.8 380.1,130.8 380.6,123.4 381.1,131.7 381.6,124.1 382.1,130.8 382.6,122.7 383.1,130.3 383.6,122.5 384.1,133 384.6,123 385.1,131.2 385.6,123.7 386.1,129.8 386.6,123.6 387.1,130.9 387.6,123.5 388.1,131.5 388.6,120.7 389.1,131.4 389.6,123.3 390.1,131.7 390.6,123.5 391.1,131 391.6,123.1 392.1,131.4 392.6,120.6 393.1,135.1 393.6,122.1 394.1,130.2 394.6,123 395.1,130.9 395.6,123.6 396.1,131.4 396.6,122.7 397.1,133.7 397.6,123.3 398.1,131.7 398.6,124.3 399.1,130.9 399.6,123.2 400.1,130.5 400.6,123 401.1,132.2 401.6,123.4 402.1,130.5 402.6,123.8 403.1,130.7 403.6,122.6 404.1,130.1 404.6,123.2 405.1,124 405.6,105.7 406.1,88.3 406.6,67 407.1,48.8 407.6,43.7 408.1,52.7 408.6,45.8 409.1,54 409.6,46.8 410.1,54.6 410.6,44.5 411.1,54.5 411.6,46 412.1,55.2 412.6,47.4 413.1,55.5 413.6,46.5 414.1,55.7 414.6,46.8 415.1,54.6 415.6,46.1 416.1,55.4 416.6,46.4 417.1,56.3 417.6,46.1 418.1,55.9 418.6,46.1 419.1,55.3 419.6,45.9 420.1,54.1 420.6,45.5 421.1,54.9 421.6,46.9 422.1,54.9 422.6,46.9 423.1,55.9 423.6,47.2 424.1,56.2 424.6,46.6 425.1,55.3 425.6,45.6 426.1,56 426.6,46.8 427.1,56.1 427.6,47.4 428.1,56.1 428.6,46.2 429.1,56.2 429.6,45.4 430.1,54.6 430.6,46.9 431.1,54.9 431.6,47.1 432.1,55.1 432.6,45.6 433.1,56.8 433.6,47.2 434.1,56.2 434.6,46.9 435.1,55.9 435.6,46.4 436.1,55.1 436.6,45.8 437.1,56.8 437.6,44.6 438.1,55.9 438.6,47 439.1,55.8 439.6,46.4 440.1,55.6 440.6,48.6 441.1,56.8 441.6,48 442.1,55.7 442.6,48.3 443.1,55.6 443.6,47.4 444.1,55.5 444.6,46.6 445.1,56.4 445.6,48.1 446.1,56.6 446.6,48 447.1,55.8 447.6,48.2 448.1,55.3 448.6,49 449.1,55.6 449.6,48 450.1,56.2 450.6,47.8 451.1,56.2 451.6,47.4 452.1,58.9 452.6,47.3 453.1,56.3 453.6,45.5 454.1,55.1 454.6,47 455.1,56.3 455.6,48 456.1,55.7 456.6,47.1 457.1,56.6 457.6,47.9 458.1,56.5 458.6,47.6 459.1,55.7 459.6,47.8 460.1,56.6 460.6,47.5 461.1,55.9 461.6,48.4 462.1,57.3 462.6,48.8 463.1,57.3 463.6,49.6 464.1,56.1 464.6,47.3 465.1,54.9 465.6,47.5 466.1,56 466.6,48.6 467.1,56.7 467.6,48.4 468.1,55.9 468.6,47.8 469.1,56.8 469.6,47.3 470.1,58.1 470.6,48.1 471.1,56.2 471.6,48 472.1,56.9 472.6,47.2 473.1,55.9 473.6,47.8 474.1,57.5 474.6,47.6 475.1,57.9 475.6,48.4 476.1,58.5 476.6,46.5 477.1,56.9 477.6,47.6 478.1,57.3 478.6,47.1 479.1,55.7 479.6,47.3 480.1,56.7 480.6,47.8 481.1,55.3 481.6,48.3 482.1,56.5 482.6,48.1 483.1,57.6 483.6,49.2 484.1,58.2 484.6,48 485.1,56.3 485.6,47.8 486.1,57.5 486.6,48.6 487.1,57.3 487.6,45.4 488.1,57.4 488.6,48 489.1,57.9 489.6,48 490.1,57.7 490.6,48.9 491.1,57 491.6,48.8 492.1,59.2 492.6,48.8 493.1,57.3 493.6,49.1 494.1,56 494.6,69.2 495.1,84.3 495.6,96.8 496.1,112.2 496.6,124.5 497.1,135.3 497.6,126.2 498.1,136.5 498.6,126 499.1,135.2 499.6,126 500.1,134 500.6,127.7 501.1,133.6 501.6,126.5 502.1,133.3 502.6,124.2 503.1,133.3 503.6,124.1 504.1,133.8 504.6,125.7 505.1,134 505.6,125.3 506.1,133.3 506.6,124.5 507.1,132.3 507.6,124.4 508.1,132.9 508.6,124.5 509.1,133.1 509.6,123.2 510.1,132.8 510.6,123 511.1,131.7 511.6,123.5 512.1,132.8 512.6,124.2 513.1,132.1 513.6,125.5 514.1,131.4 514.6,123.6 515.1,132.5 515.6,124 516.1,134.2 516.6,122.9 517.1,132 517.6,124.2 518.1,131.3 518.6,124.2 519.1,131.9 519.6,124.8 520.1,132 520.6,123.8 521.1,131.4 521.6,123.4 522.1,135.6 522.6,123.6 523.1,133.4 523.6,123.6 524.1,133.6 524.6,124.1 525.1,130.5 525.6,123.2 526.1,130.9 526.6,124.4 527.1,131.3 527.6,123.1 528.1,131.5 528.6,122.6 529.1,131.2 529.6,124.3 530.1,131.3 530.6,122.6 531.1,131 531.6,122.9 532.1,131.4 532.6,124.3 533.1,132.1 533.6,122.9 534.1,132.1 534.6,123.1 535.1,130.6 535.6,122.5 536.1,131.3 536.6,121.5 537.1,132 537.6,122.8 538.1,133.6 538.6,121.5 539.1,131.7 539.6,123 540.1,132.3 540.6,122.6 541.1,129.8 541.6,122.3 542.1,130.7 542.6,122.6 543.1,131.6 543.6,123.9 544.1,133.2 544.6,123.3 545.1,131.6 545.6,122.5 546.1,131.7 546.6,121.9 547.1,132.3 547.6,122.7 548.1,131.7 548.6,122.4 549.1,131.1 549.6,124.4 550.1,132.3 550.6,123.5 551.1,132.1 551.6,124 552.1,131.9 552.6,122.7 553.1,131.6 553.6,122.8 554.1,131.1 554.6,122.7 555.1,132.3 555.6,123.1 556.1,130.2 556.6,121.2 557.1,131.9 557.6,121.9 558.1,130.8 558.6,123.2 559.1,132 559.6,123.2 560.1,131.8 560.6,122.1 561.1,132.2 561.6,123.1 562.1,131.3 562.6,123.2 563.1,131 563.6,123.1 564.1,131.2 564.6,122.3 565.1,131 565.6,122.1 566.1,130.9 566.6,123.6 567.1,130.8 567.6,124.4 568.1,131.6 568.6,121.7 569.1,131.4 569.6,122.2 570.1,130.9 570.6,122.5 571.1,131.1 571.6,122.7 572.1,132 572.6,123.4 573.1,131.4 573.6,123.8 574.1,130.4 574.6,123.8 575.1,131.7 575.6,123.1 576.1,132 576.6,123.4 577.1,131 577.6,124.2 578.1,130.6 578.6,122.6 579.1,131.5 579.6,121.4 580.1,131.3 580.6,123 581.1,132.5 581.6,122.5 582.1,132.1 582.6,121.9 583.1,131.6 583.6,123.7 584.1,132.2 584.6,122.3 585.1,132.5 585.6,122.5 586.1,131.6 586.6,123.7 587.1,134.3 587.6,122.4 588.1,131.4 588.6,123.2 589.1,132.1 589.6,123.2 590.1,132 590.6,122.7 591.1,131.7 591.6,122.8 592.1,131.1 592.6,122.2 593.1,130.9 593.6,122.3 594.1,132.1 594.6,123.4 595.1,131.9 595.6,122.6 596.1,130.7 596.6,122.6 597.1,130.8 597.6,124.1 598.1,131.6 598.6,123.1 599.1,130.7 599.6,122.4 600.1,132 600.6,123.7 601.1,130.7 601.6,123.6 602.1,131.9 602.6,124.1 603.1,131.6 603.6,123.1 604.1,130.7 604.6,122.5 605.1,131.3 605.6,122 606.1,132.1 606.6,123.8 607.1,131.1 607.6,122.7 608.1,130.2 608.6,123.7 609.1,133.6 609.6,122.2 610.1,131.3 610.6,121.9 611.1,130.7 611.6,123 612.1,130.7 612.6,122.6 613.1,131.5 613.6,122.3 614.1,130.7 614.6,123.4 615.1,131.2 615.6,124.6 616.1,131.2 616.6,123.1 617.1,131.2 617.6,122.9 618.1,131.5 618.6,122.4 619.1,131.7 619.6,123.6 620.1,130.4 620.6,123.4 621.1,131.3 621.6,123 622.1,131 622.6,124.2 623.1,132 623.6,123.6 624.1,132.4 624.6,122.9 625.1,130.7 625.6,122.1 626.1,133.5 626.6,121.1 627.1,129.6 627.6,123.3 628.1,133.8 628.6,122.1 629.1,132 629.6,122.6 630.1,131 630.6,123.1 631.1,130.6 631.6,123 632.1,130.9 632.6,124 633.1,131 633.6,123.9 634.1,131.5 634.6,122.4 635.1,130.9 635.6,122.2 636.1,131.5 636.6,123.6 637.1,133.2 637.6,122.5 638.1,130.9 638.6,123.7 639.1,132.6 639.6,123.9 640.1,132.4 640.6,123.6 641.1,130.9 641.6,122.6 642.1,131.5 642.6,122.1 643.1,132.6 643.6,121.5 644.1,131.5 644.6,123.1 645.1,131.4 645.6,124.1 646.1,130.6 646.6,122.9 647.1,130.9 647.6,121.9 648.1,132.3 648.6,122.9 649.1,131.3 649.6,122.2 650.1,131.8 650.6,118.6 651.1,134.3 651.6,122.4 652.1,131.4 652.6,123.5 653.1,132 653.6,123.4 654.1,131.6 654.6,124.1 655.1,131 655.6,124 656.1,130.9 656.6,123.4 657.1,131.5 657.6,121.9 658.1,132.5 658.6,124.1 659.1,134.6 659.6,124.5 660.1,131.5 660.6,123.4 661.1,130.2 661.6,122.4 662.1,131.4 662.6,124.2 663.1,130.9 663.6,123.7 664.1,130.4 664.6,123 665.1,130.4 665.6,123.5 666.1,131.2 666.6,118.9 667.1,102.8 667.6,83.2 668.1,64.6 668.6,42.6 669.1,53.8 669.6,44.8 670.1,54.6 670.6,45.2 671.1,54.1 671.6,45.7 672.1,55.1 672.6,45.2 673.1,55.2 673.6,44.9 674.1,55.6 674.6,46.2 675.1,54.9 675.6,45.7 676.1,55.1 676.6,47.2 677.1,56.8 677.6,47 678.1,55 678.6,46.8 679.1,55.9 679.6,47.6 680.1,55.7 680.6,46.6 681.1,54.9 681.6,46.1 682.1,54.3 682.6,46 683.1,54.2 683.6,46.4 684.1,54.9 684.6,47.1 685.1,55.6 685.6,47.1 686.1,57 686.6,47.2 687.1,55.2 687.6,46.8 688.1,55.5 688.6,47.1 689.1,56 689.6,46.1 690.1,54.5 690.6,45.8 691.1,54.7 691.6,46.2 692.1,55.7 692.6,48 693.1,55.9 693.6,48.2 694.1,55.7 694.6,46.9 695.1,55.6 695.6,47 696.1,56.6 696.6,46.4 697.1,55.5 697.6,47.2 698.1,55.2 698.6,47.3 699.1,56.2 699.6,47.5 700.1,56.2 700.6,45.7 701.1,55.6 701.6,47 702.1,55 702.6,47.4 703.1,54.9 703.6,47.4 704.1,55.4 704.6,47.5 705.1,57.2 705.6,47 706.1,55.7 706.6,46 707.1,55.7 707.6,47.3 708.1,55.6 708.6,48.2 709.1,56.2 709.6,47.7 710.1,56.1 710.6,47.9 711.1,56.3 711.6,45.5 712.1,55.8 712.6,46.2 713.1,55.1 713.6,47.8 714.1,56.5 714.6,48.6 715.1,56.4 715.6,48 716.1,56.6 716.6,46.1 717.1,56 717.6,48.2 718.1,56.2 718.6,46.2 719.1,57.2 719.6,47.4 720.1,56.7 720.6,47.9 721.1,57.9 721.6,46.9 722.1,56.2 722.6,47.3 723.1,54.8 723.6,47.6 724.1,56 724.6,48.5 725.1,56.1 725.6,47.8 726.1,56.4 726.6,48 727.1,57 727.6,47.5 728.1,55.9 728.6,47.4 729.1,56.1 729.6,46.9 730.1,56.7 730.6,48.4 731.1,56 731.6,48.4 732.1,57.4 732.6,47.5 733.1,56.2 733.6,46.7 734.1,55.7 734.6,49.7 735.1,57.4 735.6,47.6 736.1,56.2 736.6,48.5 737.1,56 737.6,48.4 738.1,58.9 738.6,46.8 739.1,57.3 739.6,48.2 740.1,59 740.6,47.6 741.1,58 741.6,46.8 742.1,55.8 742.6,48.4 743.1,56.8 743.6,49.2 744.1,55.8 744.6,47.5 745.1,59.3 745.6,46.7 746.1,57 746.6,48.6 747.1,56.8 747.6,47.6 748.1,58 748.6,48 749.1,58.2 749.6,47.3 750.1,57.1 750.6,47.7 751.1,57.7 751.6,48.6 752.1,57.9 752.6,48.8 753.1,57.6 753.6,48.9 754.1,57.5 754.6,60.9 755.1,76.7 755.6,88 756.1,103.6 756.6,114.7 757.1,131.5 757.6,127.4 758.1,134.8 758.6,125.8 759.1,134.1 759.6,126.7 760.1,134.6 760.6,126.2 761.1,134.3 761.6,125.6 762.1,133.4 762.6,125.9 763.1,133.4 763.6,125.4 764.1,134 764.6,124.8 765.1,133.6 765.6,124.1 766.1,133.5 766.6,125.5 767.1,132.7 767.6,123.8 768.1,132.3 768.6,124.6 769.1,133.2 769.6,123.9 770.1,132.9 770.6,123.5 771.1,133.8 771.6,124.1 772.1,132.1 772.6,125.1 773.1,132.7 773.6,122.9 774.1,131.7 774.6,123.3 775.1,131.8 775.6,124.8 776.1,132.2 776.6,124.7 777.1,131.4 777.6,124 778.1,132.1 778.6,122.7 779.1,131.3 779.6,123.5 780.1,131.7 780.6,123.4 781.1,131.7 781.6,122.1 782.1,133.6 782.6,122.7 783.1,130.7 783.6,124 784.1,131 784.6,123.4 785.1,130.4 785.6,124.4 786.1,130.3 786.6,123.9 787.1,131.4 787.6,121.1 788.1,130.4 788.6,123.1 789.1,132.4 789.6,122.6 790.1,131.9 790.6,122.3 791.1,131.1 791.6,122.2 792.1,131.6 792.6,123.3 793.1,130.3 793.6,123.6 794.1,131.5 794.6,124.1 795.1,130.8 795.6,124.2 796.1,131 796.6,125.5 797.1,131.9 797.6,124.3 798.1,132 798.6,124.5 799.1,131.5 799.6,123.6 800.1,131.5 800.6,121.7 801.1,131.7 801.6,122.1 802.1,131.5 802.6,122.2 803.1,132.3 803.6,123.3 804.1,131.3 804.6,123.1 805.1,130.5 805.6,121.5 806.1,130.5 806.6,123.3 807.1,131.5 807.6,122.4 808.1,132.3 808.6,123.6 809.1,131.2"/>
<path d="M143.9 128L144.8 91.5L146.0 88L146.0 47M405.0 128L405.9 91.5L407.1 88L407.1 47M666.4 128L667.3 91.5L668.5 88L668.5 47M231.7 52L232.0 96L233.3 99L233.6 120L234.5 130M494.0 52L494.3 96L495.6 99L495.9 120L496.8 130M754.3 52L754.6 96L755.9 99L756.2 120L757.1 130" stroke="#000" stroke-width="1.3"/>
</g>
<line x1="2.85" y1="147.6" x2="810.0" y2="147.6" stroke="#000" stroke-width="1.4" stroke-dasharray="9.1 6.2 3.1 6.65"/>
<path d="M3 2.9V499" stroke="#555" stroke-width="2" fill="none"/>
<path d="M2 3.8H811.2" stroke="#333" stroke-width="1.8" fill="none"/>
<path d="M810.4 2.9V499" stroke="#262626" stroke-width="1.7" fill="none"/>
<path d="M2 498.1H811.2" stroke="#2a2a2a" stroke-width="1.9" fill="none"/>
</svg>
<svg width="814" height="535" viewBox="0 0 814 535" font-family="'Liberation Sans', sans-serif" font-size="25.4">
<g fill="#fff">
<rect x="497" y="90" width="165" height="33.6"/>
<rect x="168" y="268" width="232" height="31"/>
<rect x="455" y="279" width="210" height="32.4"/>
<rect x="81" y="434" width="196" height="33"/>
</g>
<text y="114.2"><tspan x="503.1">V</tspan><tspan x="520.0" y="117.8" font-size="16.8">SW</tspan><tspan x="553.1" y="114.2">(20 V/div)</tspan></text>
<text y="290.2"><tspan x="172.8">V</tspan><tspan x="189.7" y="293.8" font-size="16.5">D1</tspan><tspan x="210.3" y="293.8" font-size="16.5">-ISOGND</tspan><tspan x="287.2" y="290.2">(20 V/div)</tspan></text>
<text y="301.8"><tspan x="459.4">iL</tspan><tspan x="479.3" y="305.8" font-size="16.8">SEC</tspan><tspan x="519.3" y="301.8">(500 mA/div)</tspan></text>
<text y="457.3"><tspan x="80.0">iL</tspan><tspan x="99.6" y="461.2" font-size="16.8">PRI</tspan><tspan x="133.8" y="457.3">(500 mA/div)</tspan></text>
<text y="523.8" font-size="25.1"><tspan x="330.5">Time</tspan><tspan x="393.6">=</tspan><tspan x="415.0">1</tspan><tspan x="435.9">µs/div</tspan></text>
</svg>
</body></html>
